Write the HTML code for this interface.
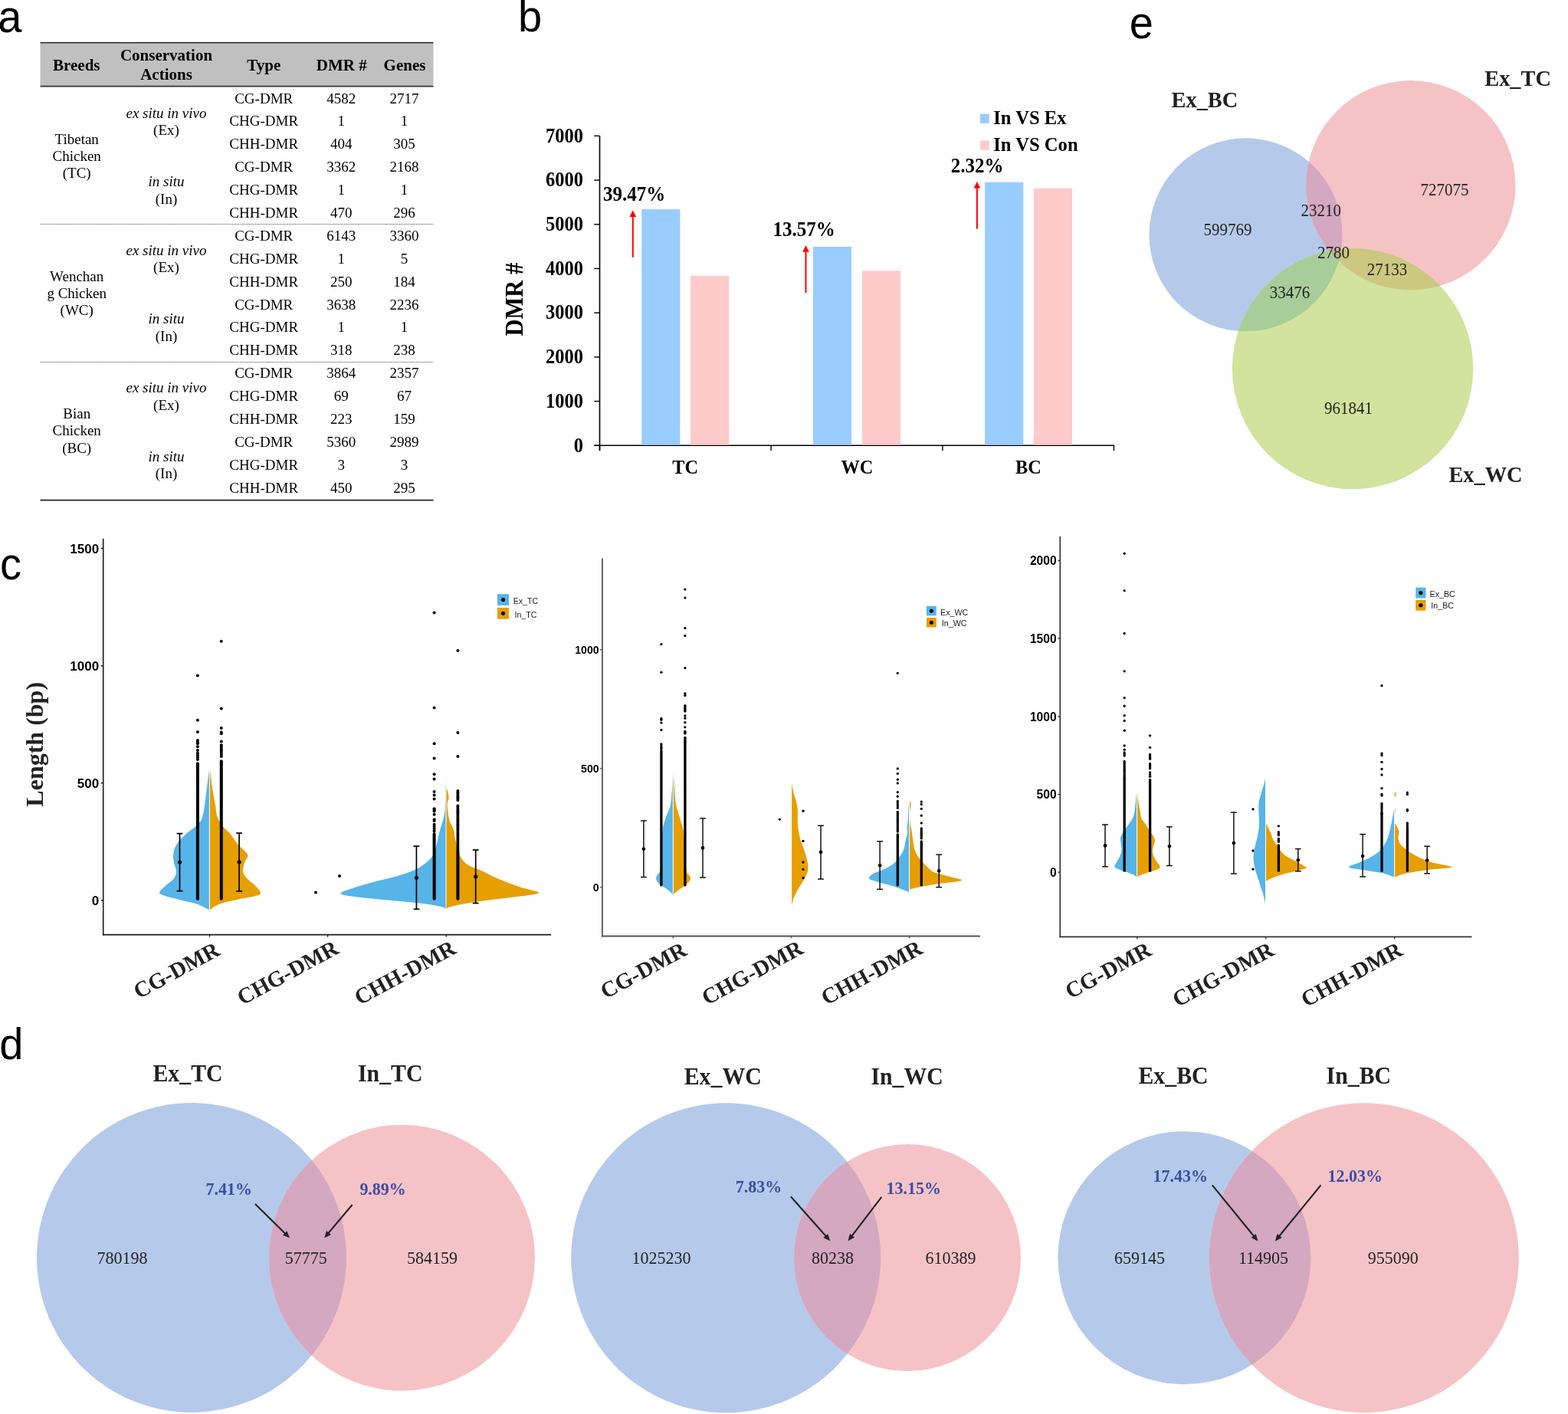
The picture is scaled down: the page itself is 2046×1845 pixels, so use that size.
<!DOCTYPE html><html><head><meta charset='utf-8'><title>Figure</title><style>html,body{margin:0;padding:0;background:#fff;}body{width:2046px;height:1845px;position:relative;overflow:hidden;}</style></head><body><svg width='2046' height='1845' viewBox='0 0 2046 1845' style='position:absolute;left:0;top:0'><defs><clipPath id='cc1'><circle cx='1625.5' cy='306.3' r='126'/></clipPath><clipPath id='cc2'><circle cx='1840.8' cy='241.7' r='136.7'/></clipPath><clipPath id='cc3'><circle cx='1625.5' cy='306.3' r='126'/></clipPath><clipPath id='cc4'><circle cx='250' cy='1641' r='202'/></clipPath><clipPath id='cc5'><circle cx='947.2' cy='1641.3' r='202'/></clipPath><clipPath id='cc6'><circle cx='1545.4' cy='1641.2' r='165'/></clipPath></defs><rect x='0' y='0' width='2046' height='1845' fill='#fff'/><text x='0' y='0' transform='translate(-2.7,41.5) scale(1,1.07)' font-family="'Liberation Sans', Arial, sans-serif" font-size='56' font-weight='normal' font-style='normal' text-anchor='start' fill='#000' >a</text>
<text x='0' y='0' transform='translate(676,41.4) scale(1,1.02)' font-family="'Liberation Sans', Arial, sans-serif" font-size='56' font-weight='normal' font-style='normal' text-anchor='start' fill='#000' >b</text>
<text x='0' y='0' transform='translate(0,756) scale(1,1.07)' font-family="'Liberation Sans', Arial, sans-serif" font-size='56' font-weight='normal' font-style='normal' text-anchor='start' fill='#000' >c</text>
<text x='0' y='0' transform='translate(-0.75,1382.4) scale(1,1.02)' font-family="'Liberation Sans', Arial, sans-serif" font-size='56' font-weight='normal' font-style='normal' text-anchor='start' fill='#000' >d</text>
<text x='0' y='0' transform='translate(1473.7,49.6) scale(1,1.07)' font-family="'Liberation Sans', Arial, sans-serif" font-size='56' font-weight='normal' font-style='normal' text-anchor='start' fill='#000' >e</text>
<rect x='52.5' y='56.5' width='513' height='55.5' fill='#c0c0c0'/>
<line x1='52.5' y1='55.8' x2='565.5' y2='55.8' stroke='#222' stroke-width='1.6' />
<line x1='52.5' y1='112.6' x2='565.5' y2='112.6' stroke='#333' stroke-width='1.8' />
<line x1='52.5' y1='652.6' x2='565.5' y2='652.6' stroke='#222' stroke-width='1.8' />
<line x1='53' y1='292.5' x2='565.5' y2='292.5' stroke='#4a4a4a' stroke-width='1.1' stroke-dasharray='1,1'/>
<line x1='53' y1='472.5' x2='565.5' y2='472.5' stroke='#4a4a4a' stroke-width='1.1' stroke-dasharray='1,1'/>
<text x='99.8' y='92' font-family="'Liberation Serif', 'Times New Roman', serif" font-size='21' font-weight='bold' font-style='normal' text-anchor='middle' fill='#000' >Breeds</text>
<text x='217' y='78.7' font-family="'Liberation Serif', 'Times New Roman', serif" font-size='21' font-weight='bold' font-style='normal' text-anchor='middle' fill='#000' >Conservation</text>
<text x='217' y='104' font-family="'Liberation Serif', 'Times New Roman', serif" font-size='21' font-weight='bold' font-style='normal' text-anchor='middle' fill='#000' >Actions</text>
<text x='344.3' y='92' font-family="'Liberation Serif', 'Times New Roman', serif" font-size='21' font-weight='bold' font-style='normal' text-anchor='middle' fill='#000' >Type</text>
<text x='445.7' y='92' font-family="'Liberation Serif', 'Times New Roman', serif" font-size='21' font-weight='bold' font-style='normal' text-anchor='middle' fill='#000' >DMR #</text>
<text x='528' y='92' font-family="'Liberation Serif', 'Times New Roman', serif" font-size='21' font-weight='bold' font-style='normal' text-anchor='middle' fill='#000' >Genes</text>
<text x='344.2' y='134.6' font-family="'Liberation Serif', 'Times New Roman', serif" font-size='19' font-weight='normal' font-style='normal' text-anchor='middle' fill='#000' >CG-DMR</text>
<text x='445.3' y='134.6' font-family="'Liberation Serif', 'Times New Roman', serif" font-size='19' font-weight='normal' font-style='normal' text-anchor='middle' fill='#000' >4582</text>
<text x='527.6' y='134.6' font-family="'Liberation Serif', 'Times New Roman', serif" font-size='19' font-weight='normal' font-style='normal' text-anchor='middle' fill='#000' >2717</text>
<text x='344.2' y='164.48' font-family="'Liberation Serif', 'Times New Roman', serif" font-size='19' font-weight='normal' font-style='normal' text-anchor='middle' fill='#000' >CHG-DMR</text>
<text x='445.3' y='164.48' font-family="'Liberation Serif', 'Times New Roman', serif" font-size='19' font-weight='normal' font-style='normal' text-anchor='middle' fill='#000' >1</text>
<text x='527.6' y='164.48' font-family="'Liberation Serif', 'Times New Roman', serif" font-size='19' font-weight='normal' font-style='normal' text-anchor='middle' fill='#000' >1</text>
<text x='344.2' y='194.36' font-family="'Liberation Serif', 'Times New Roman', serif" font-size='19' font-weight='normal' font-style='normal' text-anchor='middle' fill='#000' >CHH-DMR</text>
<text x='445.3' y='194.36' font-family="'Liberation Serif', 'Times New Roman', serif" font-size='19' font-weight='normal' font-style='normal' text-anchor='middle' fill='#000' >404</text>
<text x='527.6' y='194.36' font-family="'Liberation Serif', 'Times New Roman', serif" font-size='19' font-weight='normal' font-style='normal' text-anchor='middle' fill='#000' >305</text>
<text x='344.2' y='224.24' font-family="'Liberation Serif', 'Times New Roman', serif" font-size='19' font-weight='normal' font-style='normal' text-anchor='middle' fill='#000' >CG-DMR</text>
<text x='445.3' y='224.24' font-family="'Liberation Serif', 'Times New Roman', serif" font-size='19' font-weight='normal' font-style='normal' text-anchor='middle' fill='#000' >3362</text>
<text x='527.6' y='224.24' font-family="'Liberation Serif', 'Times New Roman', serif" font-size='19' font-weight='normal' font-style='normal' text-anchor='middle' fill='#000' >2168</text>
<text x='344.2' y='254.12' font-family="'Liberation Serif', 'Times New Roman', serif" font-size='19' font-weight='normal' font-style='normal' text-anchor='middle' fill='#000' >CHG-DMR</text>
<text x='445.3' y='254.12' font-family="'Liberation Serif', 'Times New Roman', serif" font-size='19' font-weight='normal' font-style='normal' text-anchor='middle' fill='#000' >1</text>
<text x='527.6' y='254.12' font-family="'Liberation Serif', 'Times New Roman', serif" font-size='19' font-weight='normal' font-style='normal' text-anchor='middle' fill='#000' >1</text>
<text x='344.2' y='284' font-family="'Liberation Serif', 'Times New Roman', serif" font-size='19' font-weight='normal' font-style='normal' text-anchor='middle' fill='#000' >CHH-DMR</text>
<text x='445.3' y='284' font-family="'Liberation Serif', 'Times New Roman', serif" font-size='19' font-weight='normal' font-style='normal' text-anchor='middle' fill='#000' >470</text>
<text x='527.6' y='284' font-family="'Liberation Serif', 'Times New Roman', serif" font-size='19' font-weight='normal' font-style='normal' text-anchor='middle' fill='#000' >296</text>
<text x='344.2' y='313.88' font-family="'Liberation Serif', 'Times New Roman', serif" font-size='19' font-weight='normal' font-style='normal' text-anchor='middle' fill='#000' >CG-DMR</text>
<text x='445.3' y='313.88' font-family="'Liberation Serif', 'Times New Roman', serif" font-size='19' font-weight='normal' font-style='normal' text-anchor='middle' fill='#000' >6143</text>
<text x='527.6' y='313.88' font-family="'Liberation Serif', 'Times New Roman', serif" font-size='19' font-weight='normal' font-style='normal' text-anchor='middle' fill='#000' >3360</text>
<text x='344.2' y='343.76' font-family="'Liberation Serif', 'Times New Roman', serif" font-size='19' font-weight='normal' font-style='normal' text-anchor='middle' fill='#000' >CHG-DMR</text>
<text x='445.3' y='343.76' font-family="'Liberation Serif', 'Times New Roman', serif" font-size='19' font-weight='normal' font-style='normal' text-anchor='middle' fill='#000' >1</text>
<text x='527.6' y='343.76' font-family="'Liberation Serif', 'Times New Roman', serif" font-size='19' font-weight='normal' font-style='normal' text-anchor='middle' fill='#000' >5</text>
<text x='344.2' y='373.64' font-family="'Liberation Serif', 'Times New Roman', serif" font-size='19' font-weight='normal' font-style='normal' text-anchor='middle' fill='#000' >CHH-DMR</text>
<text x='445.3' y='373.64' font-family="'Liberation Serif', 'Times New Roman', serif" font-size='19' font-weight='normal' font-style='normal' text-anchor='middle' fill='#000' >250</text>
<text x='527.6' y='373.64' font-family="'Liberation Serif', 'Times New Roman', serif" font-size='19' font-weight='normal' font-style='normal' text-anchor='middle' fill='#000' >184</text>
<text x='344.2' y='403.52' font-family="'Liberation Serif', 'Times New Roman', serif" font-size='19' font-weight='normal' font-style='normal' text-anchor='middle' fill='#000' >CG-DMR</text>
<text x='445.3' y='403.52' font-family="'Liberation Serif', 'Times New Roman', serif" font-size='19' font-weight='normal' font-style='normal' text-anchor='middle' fill='#000' >3638</text>
<text x='527.6' y='403.52' font-family="'Liberation Serif', 'Times New Roman', serif" font-size='19' font-weight='normal' font-style='normal' text-anchor='middle' fill='#000' >2236</text>
<text x='344.2' y='433.4' font-family="'Liberation Serif', 'Times New Roman', serif" font-size='19' font-weight='normal' font-style='normal' text-anchor='middle' fill='#000' >CHG-DMR</text>
<text x='445.3' y='433.4' font-family="'Liberation Serif', 'Times New Roman', serif" font-size='19' font-weight='normal' font-style='normal' text-anchor='middle' fill='#000' >1</text>
<text x='527.6' y='433.4' font-family="'Liberation Serif', 'Times New Roman', serif" font-size='19' font-weight='normal' font-style='normal' text-anchor='middle' fill='#000' >1</text>
<text x='344.2' y='463.28' font-family="'Liberation Serif', 'Times New Roman', serif" font-size='19' font-weight='normal' font-style='normal' text-anchor='middle' fill='#000' >CHH-DMR</text>
<text x='445.3' y='463.28' font-family="'Liberation Serif', 'Times New Roman', serif" font-size='19' font-weight='normal' font-style='normal' text-anchor='middle' fill='#000' >318</text>
<text x='527.6' y='463.28' font-family="'Liberation Serif', 'Times New Roman', serif" font-size='19' font-weight='normal' font-style='normal' text-anchor='middle' fill='#000' >238</text>
<text x='344.2' y='493.16' font-family="'Liberation Serif', 'Times New Roman', serif" font-size='19' font-weight='normal' font-style='normal' text-anchor='middle' fill='#000' >CG-DMR</text>
<text x='445.3' y='493.16' font-family="'Liberation Serif', 'Times New Roman', serif" font-size='19' font-weight='normal' font-style='normal' text-anchor='middle' fill='#000' >3864</text>
<text x='527.6' y='493.16' font-family="'Liberation Serif', 'Times New Roman', serif" font-size='19' font-weight='normal' font-style='normal' text-anchor='middle' fill='#000' >2357</text>
<text x='344.2' y='523.04' font-family="'Liberation Serif', 'Times New Roman', serif" font-size='19' font-weight='normal' font-style='normal' text-anchor='middle' fill='#000' >CHG-DMR</text>
<text x='445.3' y='523.04' font-family="'Liberation Serif', 'Times New Roman', serif" font-size='19' font-weight='normal' font-style='normal' text-anchor='middle' fill='#000' >69</text>
<text x='527.6' y='523.04' font-family="'Liberation Serif', 'Times New Roman', serif" font-size='19' font-weight='normal' font-style='normal' text-anchor='middle' fill='#000' >67</text>
<text x='344.2' y='552.92' font-family="'Liberation Serif', 'Times New Roman', serif" font-size='19' font-weight='normal' font-style='normal' text-anchor='middle' fill='#000' >CHH-DMR</text>
<text x='445.3' y='552.92' font-family="'Liberation Serif', 'Times New Roman', serif" font-size='19' font-weight='normal' font-style='normal' text-anchor='middle' fill='#000' >223</text>
<text x='527.6' y='552.92' font-family="'Liberation Serif', 'Times New Roman', serif" font-size='19' font-weight='normal' font-style='normal' text-anchor='middle' fill='#000' >159</text>
<text x='344.2' y='582.8' font-family="'Liberation Serif', 'Times New Roman', serif" font-size='19' font-weight='normal' font-style='normal' text-anchor='middle' fill='#000' >CG-DMR</text>
<text x='445.3' y='582.8' font-family="'Liberation Serif', 'Times New Roman', serif" font-size='19' font-weight='normal' font-style='normal' text-anchor='middle' fill='#000' >5360</text>
<text x='527.6' y='582.8' font-family="'Liberation Serif', 'Times New Roman', serif" font-size='19' font-weight='normal' font-style='normal' text-anchor='middle' fill='#000' >2989</text>
<text x='344.2' y='612.68' font-family="'Liberation Serif', 'Times New Roman', serif" font-size='19' font-weight='normal' font-style='normal' text-anchor='middle' fill='#000' >CHG-DMR</text>
<text x='445.3' y='612.68' font-family="'Liberation Serif', 'Times New Roman', serif" font-size='19' font-weight='normal' font-style='normal' text-anchor='middle' fill='#000' >3</text>
<text x='527.6' y='612.68' font-family="'Liberation Serif', 'Times New Roman', serif" font-size='19' font-weight='normal' font-style='normal' text-anchor='middle' fill='#000' >3</text>
<text x='344.2' y='642.56' font-family="'Liberation Serif', 'Times New Roman', serif" font-size='19' font-weight='normal' font-style='normal' text-anchor='middle' fill='#000' >CHH-DMR</text>
<text x='445.3' y='642.56' font-family="'Liberation Serif', 'Times New Roman', serif" font-size='19' font-weight='normal' font-style='normal' text-anchor='middle' fill='#000' >450</text>
<text x='527.6' y='642.56' font-family="'Liberation Serif', 'Times New Roman', serif" font-size='19' font-weight='normal' font-style='normal' text-anchor='middle' fill='#000' >295</text>
<text x='100.2' y='187.5' font-family="'Liberation Serif', 'Times New Roman', serif" font-size='19' font-weight='normal' font-style='normal' text-anchor='middle' fill='#000' >Tibetan</text>
<text x='100.2' y='209.85' font-family="'Liberation Serif', 'Times New Roman', serif" font-size='19' font-weight='normal' font-style='normal' text-anchor='middle' fill='#000' >Chicken</text>
<text x='100.2' y='232.2' font-family="'Liberation Serif', 'Times New Roman', serif" font-size='19' font-weight='normal' font-style='normal' text-anchor='middle' fill='#000' >(TC)</text>
<text x='217' y='153.6' font-family="'Liberation Serif', 'Times New Roman', serif" font-size='19' font-weight='normal' font-style='italic' text-anchor='middle' fill='#000' >ex situ in vivo</text>
<text x='217' y='176' font-family="'Liberation Serif', 'Times New Roman', serif" font-size='19' font-weight='normal' font-style='normal' text-anchor='middle' fill='#000' >(Ex)</text>
<text x='217' y='243.2' font-family="'Liberation Serif', 'Times New Roman', serif" font-size='19' font-weight='normal' font-style='italic' text-anchor='middle' fill='#000' >in situ</text>
<text x='217' y='265.5' font-family="'Liberation Serif', 'Times New Roman', serif" font-size='19' font-weight='normal' font-style='normal' text-anchor='middle' fill='#000' >(In)</text>
<text x='100.2' y='366.78' font-family="'Liberation Serif', 'Times New Roman', serif" font-size='19' font-weight='normal' font-style='normal' text-anchor='middle' fill='#000' >Wenchan</text>
<text x='100.2' y='389.13' font-family="'Liberation Serif', 'Times New Roman', serif" font-size='19' font-weight='normal' font-style='normal' text-anchor='middle' fill='#000' >g Chicken</text>
<text x='100.2' y='411.48' font-family="'Liberation Serif', 'Times New Roman', serif" font-size='19' font-weight='normal' font-style='normal' text-anchor='middle' fill='#000' >(WC)</text>
<text x='217' y='332.88' font-family="'Liberation Serif', 'Times New Roman', serif" font-size='19' font-weight='normal' font-style='italic' text-anchor='middle' fill='#000' >ex situ in vivo</text>
<text x='217' y='355.28' font-family="'Liberation Serif', 'Times New Roman', serif" font-size='19' font-weight='normal' font-style='normal' text-anchor='middle' fill='#000' >(Ex)</text>
<text x='217' y='422.48' font-family="'Liberation Serif', 'Times New Roman', serif" font-size='19' font-weight='normal' font-style='italic' text-anchor='middle' fill='#000' >in situ</text>
<text x='217' y='444.78' font-family="'Liberation Serif', 'Times New Roman', serif" font-size='19' font-weight='normal' font-style='normal' text-anchor='middle' fill='#000' >(In)</text>
<text x='100.2' y='546.06' font-family="'Liberation Serif', 'Times New Roman', serif" font-size='19' font-weight='normal' font-style='normal' text-anchor='middle' fill='#000' >Bian</text>
<text x='100.2' y='568.41' font-family="'Liberation Serif', 'Times New Roman', serif" font-size='19' font-weight='normal' font-style='normal' text-anchor='middle' fill='#000' >Chicken</text>
<text x='100.2' y='590.76' font-family="'Liberation Serif', 'Times New Roman', serif" font-size='19' font-weight='normal' font-style='normal' text-anchor='middle' fill='#000' >(BC)</text>
<text x='217' y='512.16' font-family="'Liberation Serif', 'Times New Roman', serif" font-size='19' font-weight='normal' font-style='italic' text-anchor='middle' fill='#000' >ex situ in vivo</text>
<text x='217' y='534.56' font-family="'Liberation Serif', 'Times New Roman', serif" font-size='19' font-weight='normal' font-style='normal' text-anchor='middle' fill='#000' >(Ex)</text>
<text x='217' y='601.76' font-family="'Liberation Serif', 'Times New Roman', serif" font-size='19' font-weight='normal' font-style='italic' text-anchor='middle' fill='#000' >in situ</text>
<text x='217' y='624.06' font-family="'Liberation Serif', 'Times New Roman', serif" font-size='19' font-weight='normal' font-style='normal' text-anchor='middle' fill='#000' >(In)</text>
<line x1='782.5' y1='177.3' x2='782.5' y2='588' stroke='#000' stroke-width='1.6' />
<line x1='775.2' y1='581.3' x2='1454.2' y2='581.3' stroke='#000' stroke-width='1.6' />
<line x1='775.2' y1='581.3' x2='782.5' y2='581.3' stroke='#000' stroke-width='1.4' />
<text x='0' y='0' transform='translate(761,589.6) scale(1,1.11)' font-family="'Liberation Serif', 'Times New Roman', serif" font-size='24.5' font-weight='bold' font-style='normal' text-anchor='end' fill='#000' >0</text>
<line x1='775.2' y1='523.59' x2='782.5' y2='523.59' stroke='#000' stroke-width='1.4' />
<text x='0' y='0' transform='translate(761,531.89) scale(1,1.11)' font-family="'Liberation Serif', 'Times New Roman', serif" font-size='24.5' font-weight='bold' font-style='normal' text-anchor='end' fill='#000' >1000</text>
<line x1='775.2' y1='465.88' x2='782.5' y2='465.88' stroke='#000' stroke-width='1.4' />
<text x='0' y='0' transform='translate(761,474.18) scale(1,1.11)' font-family="'Liberation Serif', 'Times New Roman', serif" font-size='24.5' font-weight='bold' font-style='normal' text-anchor='end' fill='#000' >2000</text>
<line x1='775.2' y1='408.17' x2='782.5' y2='408.17' stroke='#000' stroke-width='1.4' />
<text x='0' y='0' transform='translate(761,416.47) scale(1,1.11)' font-family="'Liberation Serif', 'Times New Roman', serif" font-size='24.5' font-weight='bold' font-style='normal' text-anchor='end' fill='#000' >3000</text>
<line x1='775.2' y1='350.46' x2='782.5' y2='350.46' stroke='#000' stroke-width='1.4' />
<text x='0' y='0' transform='translate(761,358.76) scale(1,1.11)' font-family="'Liberation Serif', 'Times New Roman', serif" font-size='24.5' font-weight='bold' font-style='normal' text-anchor='end' fill='#000' >4000</text>
<line x1='775.2' y1='292.75' x2='782.5' y2='292.75' stroke='#000' stroke-width='1.4' />
<text x='0' y='0' transform='translate(761,301.05) scale(1,1.11)' font-family="'Liberation Serif', 'Times New Roman', serif" font-size='24.5' font-weight='bold' font-style='normal' text-anchor='end' fill='#000' >5000</text>
<line x1='775.2' y1='235.04' x2='782.5' y2='235.04' stroke='#000' stroke-width='1.4' />
<text x='0' y='0' transform='translate(761,243.34) scale(1,1.11)' font-family="'Liberation Serif', 'Times New Roman', serif" font-size='24.5' font-weight='bold' font-style='normal' text-anchor='end' fill='#000' >6000</text>
<line x1='775.2' y1='177.33' x2='782.5' y2='177.33' stroke='#000' stroke-width='1.4' />
<text x='0' y='0' transform='translate(761,185.63) scale(1,1.11)' font-family="'Liberation Serif', 'Times New Roman', serif" font-size='24.5' font-weight='bold' font-style='normal' text-anchor='end' fill='#000' >7000</text>
<line x1='782.5' y1='581.3' x2='782.5' y2='588' stroke='#000' stroke-width='1.4' />
<line x1='1006.1' y1='581.3' x2='1006.1' y2='588' stroke='#000' stroke-width='1.4' />
<line x1='1229.9' y1='581.3' x2='1229.9' y2='588' stroke='#000' stroke-width='1.4' />
<line x1='1453.4' y1='581.3' x2='1453.4' y2='588' stroke='#000' stroke-width='1.4' />
<rect x='837.2' y='273.1' width='50.2' height='307.4' fill='#99ccff'/>
<rect x='901' y='359.8' width='50.2' height='220.7' fill='#ffcaca'/>
<rect x='1060.9' y='322' width='50.2' height='258.5' fill='#99ccff'/>
<rect x='1124.9' y='353.4' width='50.2' height='227.1' fill='#ffcaca'/>
<rect x='1285.1' y='237.7' width='50.2' height='342.8' fill='#99ccff'/>
<rect x='1348.8' y='245.7' width='50.2' height='334.8' fill='#ffcaca'/>
<text x='0' y='0' transform='translate(894.2,617.6) scale(1,1.06)' font-family="'Liberation Serif', 'Times New Roman', serif" font-size='24.3' font-weight='bold' font-style='normal' text-anchor='middle' fill='#000' >TC</text>
<text x='0' y='0' transform='translate(1118.3,617.6) scale(1,1.06)' font-family="'Liberation Serif', 'Times New Roman', serif" font-size='24.3' font-weight='bold' font-style='normal' text-anchor='middle' fill='#000' >WC</text>
<text x='0' y='0' transform='translate(1341.9,617.6) scale(1,1.06)' font-family="'Liberation Serif', 'Times New Roman', serif" font-size='24.3' font-weight='bold' font-style='normal' text-anchor='middle' fill='#000' >BC</text>
<text x='0' y='0' font-family="'Liberation Serif', 'Times New Roman', serif" font-size='30.6' font-weight='bold' font-style='normal' text-anchor='middle' fill='#000' transform='translate(682.3,390.6) rotate(-90) scale(1,1.07)'>DMR #</text>
<line x1='825.8' y1='335.8' x2='825.8' y2='281.5' stroke='#ff0000' stroke-width='2' />
<polygon points='821.4,283 825.8,274.5 830.2,283' fill='#ff0000'/>
<line x1='1051.5' y1='382.2' x2='1051.5' y2='327.3' stroke='#ff0000' stroke-width='2' />
<polygon points='1047.1,328.8 1051.5,320.3 1055.9,328.8' fill='#ff0000'/>
<line x1='1274.9' y1='298.6' x2='1274.9' y2='244.1' stroke='#ff0000' stroke-width='2' />
<polygon points='1270.5,245.6 1274.9,237.1 1279.3,245.6' fill='#ff0000'/>
<text x='0' y='0' transform='translate(787,262.3) scale(1,1.07)' font-family="'Liberation Serif', 'Times New Roman', serif" font-size='25' font-weight='bold' font-style='normal' text-anchor='start' fill='#000' >39.47%</text>
<text x='0' y='0' transform='translate(1008.6,307.5) scale(1,1.07)' font-family="'Liberation Serif', 'Times New Roman', serif" font-size='25' font-weight='bold' font-style='normal' text-anchor='start' fill='#000' >13.57%</text>
<text x='0' y='0' transform='translate(1240.8,225.2) scale(1,1.07)' font-family="'Liberation Serif', 'Times New Roman', serif" font-size='25' font-weight='bold' font-style='normal' text-anchor='start' fill='#000' >2.32%</text>
<rect x='1279' y='148.6' width='11.8' height='12.3' fill='#99ccff'/>
<rect x='1279' y='183.4' width='11.8' height='12.3' fill='#ffcaca'/>
<text x='0' y='0' transform='translate(1296.3,162.2) scale(1,1.05)' font-family="'Liberation Serif', 'Times New Roman', serif" font-size='24.6' font-weight='bold' font-style='normal' text-anchor='start' fill='#000' >In VS Ex</text>
<text x='0' y='0' transform='translate(1296.3,196.8) scale(1,1.05)' font-family="'Liberation Serif', 'Times New Roman', serif" font-size='24.6' font-weight='bold' font-style='normal' text-anchor='start' fill='#000' >In VS Con</text>
<circle cx='1625.5' cy='306.3' r='126' fill='#b5caea' />
<circle cx='1840.8' cy='241.7' r='136.7' fill='#f5c3c6' />
<circle cx='1765.1' cy='481.1' r='157.2' fill='#d1e39c' />
<g clip-path='url(#cc1)'>
<circle cx='1840.8' cy='241.7' r='136.7' fill='#d4a8c0' />
<circle cx='1765.1' cy='481.1' r='157.2' fill='#a9cd98' />
<g clip-path='url(#cc2)'>
<circle cx='1765.1' cy='481.1' r='157.2' fill='#b9b48a' />
</g></g>
<g clip-path='url(#cc2)'>
<circle cx='1765.1' cy='481.1' r='157.2' fill='#cdc87f' />
<g clip-path='url(#cc3)'>
<circle cx='1765.1' cy='481.1' r='157.2' fill='#b9b48a' />
</g></g>
<text x='0' y='0' transform='translate(1528.5,139.6) scale(1,1.05)' font-family="'Liberation Serif', 'Times New Roman', serif" font-size='28.4' font-weight='bold' font-style='normal' text-anchor='start' fill='#222' >Ex_BC</text>
<text x='0' y='0' transform='translate(1937.2,111.7) scale(1,1.05)' font-family="'Liberation Serif', 'Times New Roman', serif" font-size='28.4' font-weight='bold' font-style='normal' text-anchor='start' fill='#222' >Ex_TC</text>
<text x='0' y='0' transform='translate(1890.4,629.2) scale(1,1.05)' font-family="'Liberation Serif', 'Times New Roman', serif" font-size='28.4' font-weight='bold' font-style='normal' text-anchor='start' fill='#222' >Ex_WC</text>
<text x='0' y='0' transform='translate(1601.95,307) scale(1,1.08)' font-family="'Liberation Serif', 'Times New Roman', serif" font-size='21' font-weight='normal' font-style='normal' text-anchor='middle' fill='#222' >599769</text>
<text x='0' y='0' transform='translate(1885,254.5) scale(1,1.08)' font-family="'Liberation Serif', 'Times New Roman', serif" font-size='21' font-weight='normal' font-style='normal' text-anchor='middle' fill='#222' >727075</text>
<text x='0' y='0' transform='translate(1723.75,282.4) scale(1,1.08)' font-family="'Liberation Serif', 'Times New Roman', serif" font-size='21' font-weight='normal' font-style='normal' text-anchor='middle' fill='#222' >23210</text>
<text x='0' y='0' transform='translate(1740.1,336.8) scale(1,1.08)' font-family="'Liberation Serif', 'Times New Roman', serif" font-size='21' font-weight='normal' font-style='normal' text-anchor='middle' fill='#222' >2780</text>
<text x='0' y='0' transform='translate(1809.9,358.9) scale(1,1.08)' font-family="'Liberation Serif', 'Times New Roman', serif" font-size='21' font-weight='normal' font-style='normal' text-anchor='middle' fill='#222' >27133</text>
<text x='0' y='0' transform='translate(1683,389.4) scale(1,1.08)' font-family="'Liberation Serif', 'Times New Roman', serif" font-size='21' font-weight='normal' font-style='normal' text-anchor='middle' fill='#222' >33476</text>
<text x='0' y='0' transform='translate(1759.5,539.9) scale(1,1.08)' font-family="'Liberation Serif', 'Times New Roman', serif" font-size='21' font-weight='normal' font-style='normal' text-anchor='middle' fill='#222' >961841</text>
<circle cx='250' cy='1641' r='202' fill='#b5caea' />
<circle cx='524.5' cy='1641.2' r='173.5' fill='#f5c3c6' />
<g clip-path='url(#cc4)'>
<circle cx='524.5' cy='1641.2' r='173.5' fill='#d4a8c0' />
</g>
<text x='0' y='0' transform='translate(245,1410.6) scale(1,1.05)' font-family="'Liberation Serif', 'Times New Roman', serif" font-size='29.8' font-weight='bold' font-style='normal' text-anchor='middle' fill='#222' >Ex_TC</text>
<text x='0' y='0' transform='translate(509.2,1410.6) scale(1,1.05)' font-family="'Liberation Serif', 'Times New Roman', serif" font-size='29.8' font-weight='bold' font-style='normal' text-anchor='middle' fill='#222' >In_TC</text>
<text x='0' y='0' transform='translate(298.8,1559.1) scale(1,1.07)' font-family="'Liberation Serif', 'Times New Roman', serif" font-size='22' font-weight='bold' font-style='normal' text-anchor='middle' fill='#3b4ca3' >7.41%</text>
<text x='0' y='0' transform='translate(499.6,1559.1) scale(1,1.07)' font-family="'Liberation Serif', 'Times New Roman', serif" font-size='22' font-weight='bold' font-style='normal' text-anchor='middle' fill='#3b4ca3' >9.89%</text>
<text x='0' y='0' transform='translate(159.5,1648.9) scale(1,1.09)' font-family="'Liberation Serif', 'Times New Roman', serif" font-size='22' font-weight='normal' font-style='normal' text-anchor='middle' fill='#222' >780198</text>
<text x='0' y='0' transform='translate(399.2,1648.9) scale(1,1.09)' font-family="'Liberation Serif', 'Times New Roman', serif" font-size='22' font-weight='normal' font-style='normal' text-anchor='middle' fill='#222' >57775</text>
<text x='0' y='0' transform='translate(564,1648.9) scale(1,1.09)' font-family="'Liberation Serif', 'Times New Roman', serif" font-size='22' font-weight='normal' font-style='normal' text-anchor='middle' fill='#222' >584159</text>
<line x1='333' y1='1570.9' x2='373.11' y2='1610.39' stroke='#222' stroke-width='2.1' />
<polygon points='378.1,1615.3 368.95,1611.77 374.42,1606.21' fill='#222'/>
<line x1='459.6' y1='1572' x2='427.7' y2='1609.94' stroke='#222' stroke-width='2.1' />
<polygon points='423.2,1615.3 426.01,1605.9 431.98,1610.92' fill='#222'/>
<circle cx='947.2' cy='1641.3' r='202' fill='#b5caea' />
<circle cx='1184' cy='1641' r='148' fill='#f5c3c6' />
<g clip-path='url(#cc5)'>
<circle cx='1184' cy='1641' r='148' fill='#d4a8c0' />
</g>
<text x='0' y='0' transform='translate(943.2,1414.7) scale(1,1.05)' font-family="'Liberation Serif', 'Times New Roman', serif" font-size='29.8' font-weight='bold' font-style='normal' text-anchor='middle' fill='#222' >Ex_WC</text>
<text x='0' y='0' transform='translate(1183.6,1414.7) scale(1,1.05)' font-family="'Liberation Serif', 'Times New Roman', serif" font-size='29.8' font-weight='bold' font-style='normal' text-anchor='middle' fill='#222' >In_WC</text>
<text x='0' y='0' transform='translate(990,1556.4) scale(1,1.07)' font-family="'Liberation Serif', 'Times New Roman', serif" font-size='22' font-weight='bold' font-style='normal' text-anchor='middle' fill='#3b4ca3' >7.83%</text>
<text x='0' y='0' transform='translate(1192.2,1558) scale(1,1.07)' font-family="'Liberation Serif', 'Times New Roman', serif" font-size='22' font-weight='bold' font-style='normal' text-anchor='middle' fill='#3b4ca3' >13.15%</text>
<text x='0' y='0' transform='translate(863.1,1648.8) scale(1,1.09)' font-family="'Liberation Serif', 'Times New Roman', serif" font-size='22' font-weight='normal' font-style='normal' text-anchor='middle' fill='#222' >1025230</text>
<text x='0' y='0' transform='translate(1086.5,1648.8) scale(1,1.09)' font-family="'Liberation Serif', 'Times New Roman', serif" font-size='22' font-weight='normal' font-style='normal' text-anchor='middle' fill='#222' >80238</text>
<text x='0' y='0' transform='translate(1240.6,1648.8) scale(1,1.09)' font-family="'Liberation Serif', 'Times New Roman', serif" font-size='22' font-weight='normal' font-style='normal' text-anchor='middle' fill='#222' >610389</text>
<line x1='1031.8' y1='1561.2' x2='1078.65' y2='1613.97' stroke='#222' stroke-width='2.1' />
<polygon points='1083.3,1619.2 1074.41,1615.06 1080.24,1609.88' fill='#222'/>
<line x1='1150.3' y1='1561.9' x2='1110.75' y2='1613.64' stroke='#222' stroke-width='2.1' />
<polygon points='1106.5,1619.2 1108.87,1609.68 1115.06,1614.42' fill='#222'/>
<circle cx='1545.4' cy='1641.2' r='165' fill='#b5caea' />
<circle cx='1779.8' cy='1641.2' r='202' fill='#f5c3c6' />
<g clip-path='url(#cc6)'>
<circle cx='1779.8' cy='1641.2' r='202' fill='#d4a8c0' />
</g>
<text x='0' y='0' transform='translate(1531,1414.2) scale(1,1.05)' font-family="'Liberation Serif', 'Times New Roman', serif" font-size='29.8' font-weight='bold' font-style='normal' text-anchor='middle' fill='#222' >Ex_BC</text>
<text x='0' y='0' transform='translate(1772.8,1414.2) scale(1,1.05)' font-family="'Liberation Serif', 'Times New Roman', serif" font-size='29.8' font-weight='bold' font-style='normal' text-anchor='middle' fill='#222' >In_BC</text>
<text x='0' y='0' transform='translate(1540.2,1541.8) scale(1,1.07)' font-family="'Liberation Serif', 'Times New Roman', serif" font-size='22' font-weight='bold' font-style='normal' text-anchor='middle' fill='#3b4ca3' >17.43%</text>
<text x='0' y='0' transform='translate(1768.2,1541.8) scale(1,1.07)' font-family="'Liberation Serif', 'Times New Roman', serif" font-size='22' font-weight='bold' font-style='normal' text-anchor='middle' fill='#3b4ca3' >12.03%</text>
<text x='0' y='0' transform='translate(1487.1,1648.7) scale(1,1.09)' font-family="'Liberation Serif', 'Times New Roman', serif" font-size='22' font-weight='normal' font-style='normal' text-anchor='middle' fill='#222' >659145</text>
<text x='0' y='0' transform='translate(1648.5,1648.7) scale(1,1.09)' font-family="'Liberation Serif', 'Times New Roman', serif" font-size='22' font-weight='normal' font-style='normal' text-anchor='middle' fill='#222' >114905</text>
<text x='0' y='0' transform='translate(1817.7,1648.7) scale(1,1.09)' font-family="'Liberation Serif', 'Times New Roman', serif" font-size='22' font-weight='normal' font-style='normal' text-anchor='middle' fill='#222' >955090</text>
<line x1='1581.8' y1='1546.3' x2='1636.98' y2='1613.97' stroke='#222' stroke-width='2.1' />
<polygon points='1641.4,1619.4 1632.69,1614.89 1638.74,1609.96' fill='#222'/>
<line x1='1723.5' y1='1546.3' x2='1668.32' y2='1613.97' stroke='#222' stroke-width='2.1' />
<polygon points='1663.9,1619.4 1666.56,1609.96 1672.61,1614.89' fill='#222'/>
<line x1='134.7' y1='702.7' x2='134.7' y2='1220.4' stroke='#1a1a1a' stroke-width='1.6' />
<line x1='134' y1='1219.6' x2='719.2' y2='1219.6' stroke='#1a1a1a' stroke-width='1.6' />
<line x1='131.6' y1='1174.8' x2='134.7' y2='1174.8' stroke='#1a1a1a' stroke-width='1.4' />
<text x='129.2' y='1180.9' font-family="'Liberation Sans', Arial, sans-serif" font-size='17' font-weight='bold' font-style='normal' text-anchor='end' fill='#000' >0</text>
<line x1='131.6' y1='1021.8' x2='134.7' y2='1021.8' stroke='#1a1a1a' stroke-width='1.4' />
<text x='129.2' y='1027.9' font-family="'Liberation Sans', Arial, sans-serif" font-size='17' font-weight='bold' font-style='normal' text-anchor='end' fill='#000' >500</text>
<line x1='131.6' y1='868.9' x2='134.7' y2='868.9' stroke='#1a1a1a' stroke-width='1.4' />
<text x='129.2' y='875' font-family="'Liberation Sans', Arial, sans-serif" font-size='17' font-weight='bold' font-style='normal' text-anchor='end' fill='#000' >1000</text>
<line x1='131.6' y1='715.4' x2='134.7' y2='715.4' stroke='#1a1a1a' stroke-width='1.4' />
<text x='129.2' y='721.5' font-family="'Liberation Sans', Arial, sans-serif" font-size='17' font-weight='bold' font-style='normal' text-anchor='end' fill='#000' >1500</text>
<line x1='273.5' y1='1219.6' x2='273.5' y2='1222.6' stroke='#1a1a1a' stroke-width='1.4' />
<line x1='427.6' y1='1219.6' x2='427.6' y2='1222.6' stroke='#1a1a1a' stroke-width='1.4' />
<line x1='582.2' y1='1219.6' x2='582.2' y2='1222.6' stroke='#1a1a1a' stroke-width='1.4' />
<text x='0' y='0' font-family="'Liberation Serif', 'Times New Roman', serif" font-size='32' font-weight='bold' font-style='normal' text-anchor='middle' fill='#222' transform='translate(55.7,971.3) rotate(-90)'>Length (bp)</text>
<path d='M273.4,1001.2 L273,1004.19 L272.44,1008.36 L271.79,1013.29 L271.09,1018.55 L270.41,1023.73 L269.8,1028.4 L269.26,1032.75 L268.73,1037.14 L268.23,1041.45 L267.73,1045.55 L267.26,1049.31 L266.8,1052.6 L266.37,1055.36 L265.98,1057.68 L265.61,1059.66 L265.23,1061.4 L264.83,1063.01 L264.4,1064.6 L263.97,1066.09 L263.57,1067.38 L263.15,1068.54 L262.66,1069.64 L262.06,1070.74 L261.3,1071.9 L260.39,1073.09 L259.39,1074.25 L258.26,1075.41 L257.01,1076.6 L255.63,1077.85 L254.1,1079.2 L252.35,1080.64 L250.39,1082.14 L248.28,1083.7 L246.13,1085.33 L244,1087.03 L242,1088.8 L240.04,1090.67 L238.05,1092.65 L236.09,1094.69 L234.24,1096.77 L232.55,1098.85 L231.1,1100.9 L229.88,1102.92 L228.85,1104.93 L227.98,1106.95 L227.27,1108.97 L226.72,1110.98 L226.3,1113 L226.06,1115.02 L226.01,1117.03 L226.11,1119.05 L226.32,1121.07 L226.6,1123.08 L226.9,1125.1 L227.34,1127.14 L227.97,1129.22 L228.66,1131.3 L229.3,1133.34 L229.75,1135.32 L229.9,1137.2 L229.75,1138.97 L229.41,1140.66 L228.89,1142.28 L228.2,1143.85 L227.33,1145.39 L226.3,1146.9 L225.02,1148.37 L223.47,1149.77 L221.76,1151.14 L219.97,1152.5 L218.22,1153.87 L216.6,1155.3 L214.94,1156.83 L213.14,1158.46 L211.36,1160.11 L209.81,1161.7 L208.66,1163.16 L208.1,1164.4 L208.13,1165.38 L208.61,1166.14 L209.49,1166.76 L210.74,1167.33 L212.32,1167.92 L214.2,1168.6 L216.45,1169.36 L219.12,1170.14 L222.12,1170.94 L225.37,1171.76 L228.79,1172.61 L232.3,1173.5 L236.11,1174.44 L240.32,1175.41 L244.7,1176.42 L249.01,1177.45 L253.03,1178.48 L256.5,1179.5 L259.46,1180.56 L262.1,1181.69 L264.44,1182.81 L266.49,1183.88 L268.27,1184.83 L269.8,1185.6 L271,1186.17 L271.85,1186.59 L272.43,1186.88 L272.83,1187.09 L273.12,1187.25 L273.4,1187.4 Z' fill='#56b4e9'/>
<path d='M273.4,1000.6 L273.8,1003.67 L274.34,1007.94 L274.99,1012.99 L275.69,1018.37 L276.41,1023.65 L277.1,1028.4 L277.8,1032.78 L278.55,1037.19 L279.32,1041.49 L280.06,1045.57 L280.73,1049.31 L281.3,1052.6 L281.72,1055.36 L282.01,1057.68 L282.24,1059.66 L282.46,1061.4 L282.72,1063.01 L283.1,1064.6 L283.58,1066.09 L284.12,1067.38 L284.71,1068.54 L285.34,1069.64 L286,1070.74 L286.7,1071.9 L287.39,1073.09 L288.06,1074.25 L288.77,1075.41 L289.57,1076.6 L290.5,1077.85 L291.6,1079.2 L292.94,1080.64 L294.49,1082.14 L296.18,1083.7 L297.91,1085.33 L299.61,1087.03 L301.2,1088.8 L302.64,1090.67 L303.98,1092.65 L305.29,1094.69 L306.64,1096.77 L308.09,1098.85 L309.7,1100.9 L311.63,1103 L313.87,1105.2 L316.21,1107.39 L318.44,1109.49 L320.37,1111.39 L321.8,1113 L322.69,1114.22 L323.19,1115.11 L323.38,1115.81 L323.36,1116.44 L323.2,1117.13 L323,1118 L322.66,1119 L322.11,1120.03 L321.42,1121.11 L320.69,1122.29 L319.99,1123.6 L319.4,1125.1 L318.83,1126.86 L318.2,1128.85 L317.6,1130.99 L317.13,1133.16 L316.9,1135.26 L317,1137.2 L317.47,1138.97 L318.24,1140.66 L319.24,1142.28 L320.41,1143.85 L321.69,1145.39 L323,1146.9 L324.43,1148.37 L326.05,1149.77 L327.78,1151.14 L329.51,1152.5 L331.19,1153.87 L332.7,1155.3 L334.18,1156.83 L335.73,1158.46 L337.21,1160.11 L338.48,1161.7 L339.42,1163.16 L339.9,1164.4 L340.02,1165.38 L339.91,1166.14 L339.46,1166.76 L338.58,1167.33 L337.16,1167.92 L335.1,1168.6 L332.19,1169.36 L328.47,1170.14 L324.21,1170.94 L319.69,1171.76 L315.16,1172.61 L310.9,1173.5 L306.74,1174.41 L302.43,1175.35 L298.12,1176.31 L293.96,1177.32 L290.1,1178.38 L286.7,1179.5 L283.7,1180.8 L280.97,1182.29 L278.54,1183.83 L276.44,1185.28 L274.72,1186.52 L273.4,1187.4 Z' fill='#e69f00'/>
<path d='M582,1012 L581.96,1014.03 L581.91,1016.8 L581.85,1020.1 L581.78,1023.71 L581.69,1027.42 L581.6,1031 L581.49,1034.69 L581.37,1038.7 L581.24,1042.81 L581.1,1046.78 L580.96,1050.39 L580.8,1053.4 L580.65,1055.71 L580.5,1057.47 L580.34,1058.87 L580.16,1060.09 L579.95,1061.3 L579.7,1062.7 L579.41,1064.25 L579.08,1065.8 L578.72,1067.34 L578.33,1068.89 L577.93,1070.44 L577.5,1072 L577.04,1073.56 L576.53,1075.13 L576.01,1076.7 L575.48,1078.27 L574.97,1079.84 L574.5,1081.4 L574.07,1082.95 L573.67,1084.5 L573.29,1086.05 L572.93,1087.6 L572.56,1089.15 L572.2,1090.7 L571.84,1092.26 L571.5,1093.83 L571.16,1095.4 L570.81,1096.97 L570.47,1098.54 L570.1,1100.1 L569.74,1101.65 L569.4,1103.2 L569.06,1104.75 L568.67,1106.3 L568.23,1107.85 L567.7,1109.4 L567.13,1110.96 L566.54,1112.53 L565.89,1114.1 L565.14,1115.67 L564.22,1117.24 L563.1,1118.8 L561.75,1120.37 L560.22,1121.96 L558.53,1123.54 L556.71,1125.1 L554.79,1126.63 L552.8,1128.1 L550.79,1129.52 L548.74,1130.89 L546.6,1132.22 L544.29,1133.53 L541.74,1134.82 L538.9,1136.1 L535.76,1137.37 L532.36,1138.61 L528.74,1139.83 L524.89,1141.05 L520.84,1142.27 L516.6,1143.5 L512.03,1144.75 L507.09,1146 L501.94,1147.25 L496.75,1148.5 L491.68,1149.75 L486.9,1151 L482.33,1152.24 L477.84,1153.47 L473.46,1154.71 L469.26,1155.94 L465.29,1157.17 L461.6,1158.4 L457.84,1159.67 L453.91,1160.97 L450.21,1162.28 L447.14,1163.55 L445.1,1164.73 L444.5,1165.8 L445.41,1166.72 L447.54,1167.52 L450.69,1168.24 L454.71,1168.91 L459.4,1169.59 L464.6,1170.3 L470.62,1171.04 L477.65,1171.77 L485.37,1172.5 L493.43,1173.23 L501.48,1173.96 L509.2,1174.7 L516.87,1175.44 L524.84,1176.19 L532.8,1176.94 L540.47,1177.7 L547.57,1178.45 L553.8,1179.2 L559.19,1179.97 L563.99,1180.76 L568.21,1181.55 L571.87,1182.32 L575,1183.04 L577.6,1183.7 L579.51,1184.31 L580.67,1184.89 L581.29,1185.43 L581.58,1185.91 L581.75,1186.3 L582,1186.6 Z' fill='#56b4e9'/>
<path d='M582,1026.8 L582.32,1027.66 L582.77,1028.86 L583.3,1030.28 L583.84,1031.8 L584.33,1033.32 L584.7,1034.7 L584.97,1035.98 L585.21,1037.27 L585.39,1038.54 L585.5,1039.79 L585.54,1041.01 L585.5,1042.2 L585.3,1043.25 L584.94,1044.16 L584.51,1045.04 L584.09,1046.01 L583.76,1047.19 L583.6,1048.7 L583.64,1050.65 L583.8,1052.99 L584.06,1055.53 L584.37,1058.1 L584.7,1060.55 L585,1062.7 L585.28,1064.58 L585.58,1066.32 L585.89,1067.93 L586.22,1069.41 L586.55,1070.77 L586.9,1072 L587.25,1073.02 L587.6,1073.8 L587.96,1074.46 L588.34,1075.1 L588.75,1075.81 L589.2,1076.7 L589.72,1077.8 L590.33,1079.03 L590.96,1080.34 L591.56,1081.67 L592.09,1082.98 L592.5,1084.2 L592.74,1085.31 L592.84,1086.33 L592.87,1087.33 L592.88,1088.36 L592.94,1089.46 L593.1,1090.7 L593.37,1092.1 L593.69,1093.62 L594.06,1095.22 L594.46,1096.87 L594.88,1098.51 L595.3,1100.1 L595.73,1101.65 L596.17,1103.2 L596.63,1104.75 L597.11,1106.3 L597.6,1107.85 L598.1,1109.4 L598.56,1110.96 L598.97,1112.53 L599.4,1114.1 L599.9,1115.67 L600.55,1117.24 L601.4,1118.8 L602.39,1120.37 L603.46,1121.96 L604.66,1123.54 L606.08,1125.1 L607.77,1126.63 L609.8,1128.1 L612.32,1129.52 L615.29,1130.89 L618.54,1132.22 L621.89,1133.53 L625.13,1134.82 L628.1,1136.1 L630.75,1137.37 L633.21,1138.61 L635.58,1139.83 L637.94,1141.05 L640.39,1142.27 L643,1143.5 L645.76,1144.75 L648.61,1146 L651.53,1147.25 L654.54,1148.5 L657.63,1149.75 L660.8,1151 L664.08,1152.25 L667.48,1153.5 L670.96,1154.75 L674.5,1155.99 L678.05,1157.21 L681.6,1158.4 L685.76,1159.57 L690.67,1160.74 L695.61,1161.89 L699.83,1163 L702.61,1164.08 L703.2,1165.1 L701.21,1166.06 L697.14,1166.97 L691.62,1167.84 L685.29,1168.68 L678.77,1169.5 L672.7,1170.3 L666.8,1171.08 L660.52,1171.82 L654.05,1172.54 L647.59,1173.26 L641.34,1173.97 L635.5,1174.7 L630,1175.44 L624.66,1176.19 L619.53,1176.94 L614.65,1177.7 L610.06,1178.45 L605.8,1179.2 L601.81,1179.97 L598.05,1180.76 L594.57,1181.55 L591.45,1182.32 L588.74,1183.04 L586.5,1183.7 L584.84,1184.31 L583.74,1184.89 L583.04,1185.43 L582.62,1185.91 L582.32,1186.3 L582,1186.6 Z' fill='#e69f00'/>
<line x1='273.4' y1='1001' x2='273.4' y2='1187' stroke='#ffffff' stroke-width='1' />
<line x1='582' y1='1012' x2='582' y2='1186.5' stroke='#ffffff' stroke-width='1' />
<circle cx='257.9' cy='881.5' r='2' fill='#000' />
<circle cx='257.9' cy='939.8' r='2' fill='#000' />
<circle cx='257.9' cy='955.1' r='2' fill='#000' />
<circle cx='257.9' cy='966' r='2' fill='#000' />
<circle cx='257.9' cy='968.5' r='2' fill='#000' />
<circle cx='257.9' cy='970.2' r='2' fill='#000' />
<circle cx='257.9' cy='974.2' r='2' fill='#000' />
<circle cx='257.9' cy='979.1' r='2' fill='#000' />
<circle cx='257.9' cy='982.7' r='2' fill='#000' />
<circle cx='257.9' cy='985.5' r='2' fill='#000' />
<circle cx='257.9' cy='988.3' r='2' fill='#000' />
<circle cx='257.9' cy='991.1' r='2' fill='#000' />
<line x1='257.9' y1='996.3' x2='257.9' y2='1172.7' stroke='#000' stroke-width='4' stroke-linecap='round'/>
<circle cx='288.8' cy='836.7' r='2' fill='#000' />
<circle cx='288.8' cy='924.6' r='2' fill='#000' />
<circle cx='288.8' cy='949.9' r='2' fill='#000' />
<circle cx='288.8' cy='955.6' r='2' fill='#000' />
<circle cx='288.8' cy='957.2' r='2' fill='#000' />
<circle cx='288.8' cy='967.6' r='2' fill='#000' />
<circle cx='288.8' cy='972.3' r='2' fill='#000' />
<circle cx='288.8' cy='974.73' r='2' fill='#000' />
<circle cx='288.8' cy='977.17' r='2' fill='#000' />
<circle cx='288.8' cy='979.6' r='2' fill='#000' />
<circle cx='288.8' cy='982.03' r='2' fill='#000' />
<circle cx='288.8' cy='984.47' r='2' fill='#000' />
<circle cx='288.8' cy='986.9' r='2' fill='#000' />
<line x1='288.8' y1='993.2' x2='288.8' y2='1172.7' stroke='#000' stroke-width='4' stroke-linecap='round'/>
<circle cx='566.6' cy='799.6' r='2' fill='#000' />
<circle cx='566.6' cy='923.5' r='2' fill='#000' />
<circle cx='566.6' cy='970.3' r='2' fill='#000' />
<circle cx='566.6' cy='989.4' r='2' fill='#000' />
<circle cx='566.6' cy='1010.2' r='2' fill='#000' />
<circle cx='566.6' cy='1016.5' r='2' fill='#000' />
<circle cx='566.6' cy='1033' r='2' fill='#000' />
<circle cx='566.6' cy='1037.5' r='2' fill='#000' />
<circle cx='566.6' cy='1042.4' r='2' fill='#000' />
<circle cx='566.6' cy='1062.7' r='2' fill='#000' />
<circle cx='566.6' cy='1069.3' r='2' fill='#000' />
<circle cx='566.6' cy='1071.1' r='2' fill='#000' />
<circle cx='566.6' cy='1055.3' r='2' fill='#000' />
<circle cx='566.6' cy='1056.9' r='2' fill='#000' />
<circle cx='566.6' cy='1058.5' r='2' fill='#000' />
<circle cx='566.6' cy='1075.8' r='2' fill='#000' />
<circle cx='566.6' cy='1078.6' r='2' fill='#000' />
<circle cx='566.6' cy='1081.4' r='2' fill='#000' />
<circle cx='566.6' cy='1084.2' r='2' fill='#000' />
<line x1='566.6' y1='1088' x2='566.6' y2='1172.7' stroke='#000' stroke-width='4' stroke-linecap='round'/>
<circle cx='597.4' cy='849.1' r='2' fill='#000' />
<circle cx='597.4' cy='956' r='2' fill='#000' />
<circle cx='597.4' cy='987.1' r='2' fill='#000' />
<circle cx='597.4' cy='1031.9' r='2' fill='#000' />
<circle cx='597.4' cy='1034.32' r='2' fill='#000' />
<circle cx='597.4' cy='1036.74' r='2' fill='#000' />
<circle cx='597.4' cy='1039.16' r='2' fill='#000' />
<circle cx='597.4' cy='1041.58' r='2' fill='#000' />
<circle cx='597.4' cy='1044' r='2' fill='#000' />
<circle cx='597.4' cy='1051.5' r='2' fill='#000' />
<circle cx='597.4' cy='1053.71' r='2' fill='#000' />
<circle cx='597.4' cy='1055.92' r='2' fill='#000' />
<circle cx='597.4' cy='1058.13' r='2' fill='#000' />
<circle cx='597.4' cy='1060.34' r='2' fill='#000' />
<circle cx='597.4' cy='1062.55' r='2' fill='#000' />
<circle cx='597.4' cy='1064.75' r='2' fill='#000' />
<circle cx='597.4' cy='1066.96' r='2' fill='#000' />
<circle cx='597.4' cy='1069.17' r='2' fill='#000' />
<circle cx='597.4' cy='1071.38' r='2' fill='#000' />
<circle cx='597.4' cy='1073.59' r='2' fill='#000' />
<circle cx='597.4' cy='1075.8' r='2' fill='#000' />
<circle cx='597.4' cy='1076.7' r='2' fill='#000' />
<circle cx='597.4' cy='1079.04' r='2' fill='#000' />
<circle cx='597.4' cy='1081.37' r='2' fill='#000' />
<circle cx='597.4' cy='1083.71' r='2' fill='#000' />
<circle cx='597.4' cy='1086.04' r='2' fill='#000' />
<circle cx='597.4' cy='1088.38' r='2' fill='#000' />
<circle cx='597.4' cy='1090.71' r='2' fill='#000' />
<circle cx='597.4' cy='1093.05' r='2' fill='#000' />
<circle cx='597.4' cy='1095.39' r='2' fill='#000' />
<circle cx='597.4' cy='1097.72' r='2' fill='#000' />
<circle cx='597.4' cy='1100.06' r='2' fill='#000' />
<circle cx='597.4' cy='1102.39' r='2' fill='#000' />
<circle cx='597.4' cy='1104.73' r='2' fill='#000' />
<circle cx='597.4' cy='1107.06' r='2' fill='#000' />
<circle cx='597.4' cy='1109.4' r='2' fill='#000' />
<line x1='597.4' y1='1111.3' x2='597.4' y2='1172.7' stroke='#000' stroke-width='4' stroke-linecap='round'/>
<circle cx='412' cy='1164.5' r='2' fill='#000' />
<circle cx='443' cy='1143.1' r='2' fill='#000' />
<line x1='234.5' y1='1087.6' x2='234.5' y2='1162.6' stroke='#000' stroke-width='1.7' />
<line x1='230.6' y1='1087.6' x2='238.4' y2='1087.6' stroke='#000' stroke-width='1.7' />
<line x1='230.6' y1='1162.6' x2='238.4' y2='1162.6' stroke='#000' stroke-width='1.7' />
<circle cx='234.5' cy='1125.1' r='2.6' fill='#000' />
<line x1='312.1' y1='1087' x2='312.1' y2='1162.8' stroke='#000' stroke-width='1.7' />
<line x1='308.2' y1='1087' x2='316' y2='1087' stroke='#000' stroke-width='1.7' />
<line x1='308.2' y1='1162.8' x2='316' y2='1162.8' stroke='#000' stroke-width='1.7' />
<circle cx='312.1' cy='1124.8' r='2.6' fill='#000' />
<line x1='543.4' y1='1104.1' x2='543.4' y2='1186.3' stroke='#000' stroke-width='1.7' />
<line x1='539.5' y1='1104.1' x2='547.3' y2='1104.1' stroke='#000' stroke-width='1.7' />
<line x1='539.5' y1='1186.3' x2='547.3' y2='1186.3' stroke='#000' stroke-width='1.7' />
<circle cx='543.4' cy='1145.3' r='2.6' fill='#000' />
<line x1='620.7' y1='1109' x2='620.7' y2='1178.5' stroke='#000' stroke-width='1.7' />
<line x1='616.8' y1='1109' x2='624.6' y2='1109' stroke='#000' stroke-width='1.7' />
<line x1='616.8' y1='1178.5' x2='624.6' y2='1178.5' stroke='#000' stroke-width='1.7' />
<circle cx='620.7' cy='1143.8' r='2.6' fill='#000' />
<rect x='649' y='775.2' width='15' height='14.7' fill='#56b4e9'/>
<rect x='649' y='793' width='15' height='14.7' fill='#e69f00'/>
<circle cx='656.5' cy='782.55' r='2.6' fill='#000' />
<circle cx='656.5' cy='800.35' r='2.6' fill='#000' />
<text x='686' y='787.9' font-family="'Liberation Sans', Arial, sans-serif" font-size='10.7' font-weight='normal' font-style='normal' text-anchor='middle' fill='#1a1a1a' >Ex_TC</text>
<text x='686' y='805.7' font-family="'Liberation Sans', Arial, sans-serif" font-size='10.7' font-weight='normal' font-style='normal' text-anchor='middle' fill='#1a1a1a' >In_TC</text>
<text x='0' y='0' font-family="'Liberation Serif', 'Times New Roman', serif" font-size='29' font-weight='bold' text-anchor='end' fill='#222' transform='translate(288.7,1245.3) rotate(-28.5)'>CG-DMR</text>
<text x='0' y='0' font-family="'Liberation Serif', 'Times New Roman', serif" font-size='29' font-weight='bold' text-anchor='end' fill='#222' transform='translate(443.7,1242.9) rotate(-28.5)'>CHG-DMR</text>
<text x='0' y='0' font-family="'Liberation Serif', 'Times New Roman', serif" font-size='29' font-weight='bold' text-anchor='end' fill='#222' transform='translate(596.6,1242.9) rotate(-28.5)'>CHH-DMR</text>
<line x1='785.9' y1='728.5' x2='785.9' y2='1222.4' stroke='#555555' stroke-width='1.8' />
<line x1='785' y1='1221.5' x2='1279' y2='1221.5' stroke='#555555' stroke-width='1.8' />
<line x1='783.1' y1='1157.7' x2='785.9' y2='1157.7' stroke='#555555' stroke-width='1.4' />
<text x='781.6' y='1162.8' font-family="'Liberation Sans', Arial, sans-serif" font-size='14.1' font-weight='bold' font-style='normal' text-anchor='end' fill='#000' >0</text>
<line x1='783.1' y1='1002.7' x2='785.9' y2='1002.7' stroke='#555555' stroke-width='1.4' />
<text x='781.6' y='1007.8' font-family="'Liberation Sans', Arial, sans-serif" font-size='14.1' font-weight='bold' font-style='normal' text-anchor='end' fill='#000' >500</text>
<line x1='783.1' y1='847.8' x2='785.9' y2='847.8' stroke='#555555' stroke-width='1.4' />
<text x='781.6' y='852.9' font-family="'Liberation Sans', Arial, sans-serif" font-size='14.1' font-weight='bold' font-style='normal' text-anchor='end' fill='#000' >1000</text>
<line x1='878.3' y1='1221.5' x2='878.3' y2='1224.2' stroke='#555555' stroke-width='1.4' />
<line x1='1032.4' y1='1221.5' x2='1032.4' y2='1224.2' stroke='#555555' stroke-width='1.4' />
<line x1='1186.6' y1='1221.5' x2='1186.6' y2='1224.2' stroke='#555555' stroke-width='1.4' />
<path d='M878.3,1000.4 L878.22,1002.67 L878.12,1005.82 L878,1009.54 L877.86,1013.56 L877.69,1017.57 L877.5,1021.3 L877.28,1024.9 L877.02,1028.66 L876.74,1032.41 L876.46,1036.01 L876.17,1039.32 L875.9,1042.2 L875.68,1044.54 L875.49,1046.44 L875.31,1048.05 L875.1,1049.51 L874.81,1050.98 L874.4,1052.6 L873.85,1054.35 L873.18,1056.1 L872.44,1057.85 L871.66,1059.6 L870.9,1061.35 L870.2,1063.1 L869.54,1064.84 L868.87,1066.57 L868.22,1068.31 L867.6,1070.04 L867.02,1071.77 L866.5,1073.5 L866.04,1075.23 L865.62,1076.96 L865.25,1078.69 L864.92,1080.43 L864.64,1082.16 L864.4,1083.9 L864.23,1085.53 L864.14,1087.02 L864.09,1088.51 L864.05,1090.15 L864,1092.06 L863.9,1094.4 L863.76,1097.24 L863.59,1100.5 L863.41,1104.04 L863.22,1107.72 L863.01,1111.42 L862.8,1115 L862.6,1118.67 L862.41,1122.58 L862.21,1126.51 L861.97,1130.22 L861.68,1133.49 L861.3,1136.1 L860.8,1137.9 L860.18,1139.04 L859.51,1139.74 L858.83,1140.23 L858.21,1140.71 L857.7,1141.4 L857.27,1142.27 L856.86,1143.14 L856.51,1144.01 L856.25,1144.87 L856.1,1145.73 L856.1,1146.6 L856.24,1147.47 L856.5,1148.33 L856.88,1149.2 L857.37,1150.07 L857.98,1150.93 L858.7,1151.8 L859.58,1152.67 L860.64,1153.53 L861.81,1154.4 L863.04,1155.27 L864.29,1156.13 L865.5,1157 L866.71,1157.87 L867.96,1158.73 L869.23,1159.59 L870.48,1160.46 L871.68,1161.33 L872.8,1162.2 L873.88,1163.14 L874.97,1164.16 L876.01,1165.18 L876.94,1166.12 L877.72,1166.92 L878.3,1167.5 Z' fill='#56b4e9'/>
<path d='M878.3,1000.4 L878.44,1002.67 L878.63,1005.82 L878.86,1009.54 L879.1,1013.56 L879.36,1017.57 L879.6,1021.3 L879.84,1024.9 L880.08,1028.66 L880.33,1032.41 L880.59,1036.01 L880.84,1039.32 L881.1,1042.2 L881.34,1044.54 L881.57,1046.44 L881.8,1048.05 L882.05,1049.51 L882.35,1050.98 L882.7,1052.6 L883.13,1054.35 L883.62,1056.1 L884.15,1057.85 L884.7,1059.6 L885.26,1061.35 L885.8,1063.1 L886.33,1064.84 L886.88,1066.57 L887.43,1068.31 L887.97,1070.04 L888.5,1071.77 L889,1073.5 L889.47,1075.05 L889.93,1076.39 L890.36,1077.72 L890.79,1079.27 L891.2,1081.26 L891.6,1083.9 L891.99,1087.34 L892.37,1091.44 L892.74,1095.97 L893.1,1100.72 L893.45,1105.47 L893.8,1110 L894.13,1114.59 L894.44,1119.47 L894.74,1124.35 L895.06,1128.94 L895.41,1132.95 L895.8,1136.1 L896.26,1138.19 L896.79,1139.41 L897.34,1140.06 L897.9,1140.41 L898.43,1140.76 L898.9,1141.4 L899.37,1142.27 L899.87,1143.14 L900.34,1144.01 L900.73,1144.87 L900.97,1145.73 L901,1146.6 L900.81,1147.47 L900.44,1148.33 L899.92,1149.2 L899.29,1150.07 L898.57,1150.93 L897.8,1151.8 L896.95,1152.67 L896,1153.53 L894.96,1154.4 L893.86,1155.27 L892.73,1156.13 L891.6,1157 L890.43,1157.87 L889.2,1158.73 L887.94,1159.59 L886.68,1160.46 L885.45,1161.33 L884.3,1162.2 L883.16,1163.14 L881.98,1164.16 L880.84,1165.18 L879.81,1166.12 L878.94,1166.92 L878.3,1167.5 Z' fill='#e69f00'/>
<path d='M1033.1,1022.9 L1033.37,1024.21 L1033.73,1026.03 L1034.16,1028.18 L1034.64,1030.47 L1035.13,1032.71 L1035.6,1034.7 L1036.08,1036.46 L1036.6,1038.14 L1037.13,1039.77 L1037.66,1041.37 L1038.15,1042.97 L1038.6,1044.6 L1039.01,1046.25 L1039.4,1047.9 L1039.77,1049.55 L1040.1,1051.2 L1040.38,1052.85 L1040.6,1054.5 L1040.75,1056.15 L1040.84,1057.8 L1040.88,1059.45 L1040.89,1061.1 L1040.89,1062.75 L1040.9,1064.4 L1040.9,1066.05 L1040.88,1067.7 L1040.85,1069.35 L1040.83,1071 L1040.84,1072.65 L1040.9,1074.3 L1041.01,1075.95 L1041.15,1077.6 L1041.33,1079.25 L1041.53,1080.9 L1041.75,1082.55 L1042,1084.2 L1042.26,1085.85 L1042.54,1087.5 L1042.85,1089.15 L1043.19,1090.8 L1043.57,1092.45 L1044,1094.1 L1044.5,1095.75 L1045.06,1097.4 L1045.66,1099.05 L1046.29,1100.7 L1046.91,1102.35 L1047.5,1104 L1048.08,1105.65 L1048.67,1107.3 L1049.26,1108.96 L1049.84,1110.61 L1050.39,1112.26 L1050.9,1113.9 L1051.39,1115.54 L1051.86,1117.17 L1052.3,1118.8 L1052.71,1120.43 L1053.08,1122.06 L1053.4,1123.7 L1053.7,1125.34 L1053.99,1126.99 L1054.24,1128.64 L1054.42,1130.3 L1054.48,1131.95 L1054.4,1133.6 L1054.17,1135.25 L1053.8,1136.9 L1053.33,1138.55 L1052.76,1140.2 L1052.11,1141.85 L1051.4,1143.5 L1050.58,1145.15 L1049.65,1146.8 L1048.63,1148.45 L1047.57,1150.1 L1046.52,1151.75 L1045.5,1153.4 L1044.5,1155.05 L1043.48,1156.7 L1042.46,1158.35 L1041.46,1160 L1040.5,1161.65 L1039.6,1163.3 L1038.74,1164.96 L1037.9,1166.64 L1037.11,1168.31 L1036.36,1169.97 L1035.69,1171.61 L1035.1,1173.2 L1034.6,1174.84 L1034.17,1176.57 L1033.82,1178.27 L1033.53,1179.83 L1033.29,1181.14 L1033.1,1182.1 Z' fill='#e69f00'/>
<path d='M1186.5,1034 L1186.42,1035.63 L1186.3,1037.83 L1186.16,1040.47 L1186.01,1043.38 L1185.85,1046.41 L1185.7,1049.4 L1185.54,1052.55 L1185.38,1056.01 L1185.21,1059.59 L1185.04,1063.1 L1184.87,1066.33 L1184.7,1069.1 L1184.52,1071.32 L1184.33,1073.13 L1184.14,1074.66 L1183.96,1076.06 L1183.81,1077.46 L1183.7,1079 L1183.67,1080.65 L1183.72,1082.3 L1183.79,1083.95 L1183.85,1085.6 L1183.83,1087.25 L1183.7,1088.9 L1183.42,1090.55 L1183.03,1092.2 L1182.58,1093.85 L1182.09,1095.5 L1181.62,1097.15 L1181.2,1098.8 L1180.88,1100.45 L1180.64,1102.1 L1180.41,1103.75 L1180.14,1105.4 L1179.75,1107.05 L1179.2,1108.7 L1178.42,1110.41 L1177.45,1112.18 L1176.37,1113.96 L1175.27,1115.66 L1174.22,1117.23 L1173.3,1118.6 L1172.54,1119.72 L1171.88,1120.63 L1171.27,1121.41 L1170.67,1122.12 L1170.03,1122.83 L1169.3,1123.6 L1168.52,1124.42 L1167.73,1125.24 L1166.91,1126.05 L1166.01,1126.86 L1165.02,1127.68 L1163.9,1128.5 L1162.7,1129.31 L1161.47,1130.09 L1160.13,1130.87 L1158.64,1131.69 L1156.95,1132.56 L1155,1133.5 L1152.58,1134.55 L1149.68,1135.69 L1146.58,1136.88 L1143.53,1138.08 L1140.82,1139.27 L1138.7,1140.4 L1137.08,1141.5 L1135.74,1142.59 L1134.72,1143.67 L1134.09,1144.71 L1133.89,1145.69 L1134.2,1146.6 L1135.03,1147.38 L1136.34,1148.05 L1138.1,1148.66 L1140.26,1149.27 L1142.77,1149.97 L1145.6,1150.8 L1148.99,1151.8 L1153.03,1152.91 L1157.42,1154.1 L1161.89,1155.32 L1166.15,1156.54 L1169.9,1157.7 L1173.3,1158.89 L1176.62,1160.17 L1179.72,1161.43 L1182.48,1162.6 L1184.78,1163.59 L1186.5,1164.3 Z' fill='#56b4e9'/>
<path d='M1186.5,1043.9 L1186.77,1044.45 L1187.17,1045.16 L1187.64,1046.03 L1188.08,1047.04 L1188.43,1048.17 L1188.6,1049.4 L1188.55,1050.74 L1188.33,1052.19 L1188.01,1053.77 L1187.66,1055.47 L1187.37,1057.32 L1187.2,1059.3 L1187.14,1061.54 L1187.14,1064.05 L1187.19,1066.7 L1187.28,1069.35 L1187.42,1071.86 L1187.6,1074.1 L1187.84,1075.98 L1188.15,1077.58 L1188.5,1079.05 L1188.87,1080.52 L1189.25,1082.12 L1189.6,1084 L1189.93,1086.24 L1190.27,1088.75 L1190.6,1091.4 L1190.93,1094.05 L1191.27,1096.56 L1191.6,1098.8 L1191.9,1100.73 L1192.16,1102.46 L1192.42,1104.06 L1192.72,1105.58 L1193.1,1107.11 L1193.6,1108.7 L1194.2,1110.35 L1194.87,1112 L1195.62,1113.65 L1196.46,1115.3 L1197.42,1116.95 L1198.5,1118.6 L1199.8,1120.31 L1201.31,1122.08 L1202.94,1123.86 L1204.57,1125.56 L1206.1,1127.13 L1207.4,1128.5 L1208.44,1129.62 L1209.29,1130.53 L1210.03,1131.31 L1210.74,1132.02 L1211.5,1132.73 L1212.4,1133.5 L1213.29,1134.32 L1214.08,1135.12 L1214.92,1135.92 L1215.97,1136.73 L1217.38,1137.56 L1219.3,1138.4 L1221.9,1139.27 L1225.1,1140.17 L1228.66,1141.08 L1232.33,1142 L1235.89,1142.91 L1239.1,1143.8 L1242.5,1144.69 L1246.41,1145.57 L1250.19,1146.46 L1253.25,1147.33 L1254.96,1148.18 L1254.7,1149 L1252,1149.77 L1247.26,1150.5 L1241.17,1151.21 L1234.44,1151.92 L1227.75,1152.68 L1221.8,1153.5 L1216.19,1154.41 L1210.27,1155.4 L1204.4,1156.42 L1198.93,1157.46 L1194.21,1158.46 L1190.6,1159.4 L1188.3,1160.33 L1187.07,1161.29 L1186.6,1162.22 L1186.56,1163.07 L1186.63,1163.78 L1186.5,1164.3 Z' fill='#e69f00'/>
<line x1='878.3' y1='1000.5' x2='878.3' y2='1167.2' stroke='#ffffff' stroke-width='1' />
<line x1='1186.5' y1='1034' x2='1186.5' y2='1164.2' stroke='#ffffff' stroke-width='1' />
<circle cx='862.9' cy='840.7' r='1.65' fill='#000' />
<circle cx='862.9' cy='877.2' r='1.65' fill='#000' />
<circle cx='862.9' cy='937.5' r='1.65' fill='#000' />
<circle cx='862.9' cy='939.2' r='1.65' fill='#000' />
<circle cx='862.9' cy='943.1' r='1.65' fill='#000' />
<circle cx='862.9' cy='952.4' r='1.65' fill='#000' />
<circle cx='862.9' cy='970.8' r='1.65' fill='#000' />
<circle cx='862.9' cy='973' r='1.65' fill='#000' />
<circle cx='862.9' cy='975.2' r='1.65' fill='#000' />
<circle cx='862.9' cy='977.4' r='1.65' fill='#000' />
<line x1='862.9' y1='980' x2='862.9' y2='1154.9' stroke='#000' stroke-width='3.3' stroke-linecap='round'/>
<circle cx='893.9' cy='769.1' r='1.65' fill='#000' />
<circle cx='893.9' cy='780.1' r='1.65' fill='#000' />
<circle cx='893.9' cy='819.6' r='1.65' fill='#000' />
<circle cx='893.9' cy='829.5' r='1.65' fill='#000' />
<circle cx='893.9' cy='871.6' r='1.65' fill='#000' />
<circle cx='893.9' cy='904.9' r='1.65' fill='#000' />
<circle cx='893.9' cy='907.5' r='1.65' fill='#000' />
<circle cx='893.9' cy='933.9' r='1.65' fill='#000' />
<circle cx='893.9' cy='937.2' r='1.65' fill='#000' />
<circle cx='893.9' cy='942.7' r='1.65' fill='#000' />
<circle cx='893.9' cy='948.8' r='1.65' fill='#000' />
<circle cx='893.9' cy='920.7' r='1.65' fill='#000' />
<circle cx='893.9' cy='922.53' r='1.65' fill='#000' />
<circle cx='893.9' cy='924.35' r='1.65' fill='#000' />
<circle cx='893.9' cy='926.17' r='1.65' fill='#000' />
<circle cx='893.9' cy='928' r='1.65' fill='#000' />
<circle cx='893.9' cy='954.3' r='1.65' fill='#000' />
<circle cx='893.9' cy='955.65' r='1.65' fill='#000' />
<circle cx='893.9' cy='957' r='1.65' fill='#000' />
<circle cx='893.9' cy='962.3' r='1.65' fill='#000' />
<circle cx='893.9' cy='964.25' r='1.65' fill='#000' />
<circle cx='893.9' cy='966.2' r='1.65' fill='#000' />
<line x1='893.9' y1='967.5' x2='893.9' y2='1154.9' stroke='#000' stroke-width='3.3' stroke-linecap='round'/>
<circle cx='1017.3' cy='1069.1' r='1.65' fill='#000' />
<circle cx='1048' cy='1058.2' r='1.65' fill='#000' />
<circle cx='1048' cy='1097.4' r='1.65' fill='#000' />
<circle cx='1048' cy='1125' r='1.65' fill='#000' />
<circle cx='1048' cy='1134.3' r='1.65' fill='#000' />
<circle cx='1048' cy='1145.5' r='1.65' fill='#000' />
<circle cx='1171.3' cy='878.3' r='1.65' fill='#000' />
<circle cx='1171.3' cy='1002.9' r='1.65' fill='#000' />
<circle cx='1171.3' cy='1009.3' r='1.65' fill='#000' />
<circle cx='1171.3' cy='1017.2' r='1.65' fill='#000' />
<circle cx='1171.3' cy='1021.9' r='1.65' fill='#000' />
<circle cx='1171.3' cy='1033.7' r='1.65' fill='#000' />
<circle cx='1171.3' cy='1039.2' r='1.65' fill='#000' />
<circle cx='1171.3' cy='1045.4' r='1.65' fill='#000' />
<circle cx='1171.3' cy='1047.62' r='1.65' fill='#000' />
<circle cx='1171.3' cy='1049.85' r='1.65' fill='#000' />
<circle cx='1171.3' cy='1052.08' r='1.65' fill='#000' />
<circle cx='1171.3' cy='1054.3' r='1.65' fill='#000' />
<circle cx='1171.3' cy='1059.3' r='1.65' fill='#000' />
<circle cx='1171.3' cy='1061.14' r='1.65' fill='#000' />
<circle cx='1171.3' cy='1062.97' r='1.65' fill='#000' />
<circle cx='1171.3' cy='1064.81' r='1.65' fill='#000' />
<circle cx='1171.3' cy='1066.64' r='1.65' fill='#000' />
<circle cx='1171.3' cy='1068.48' r='1.65' fill='#000' />
<circle cx='1171.3' cy='1070.31' r='1.65' fill='#000' />
<circle cx='1171.3' cy='1072.15' r='1.65' fill='#000' />
<circle cx='1171.3' cy='1073.99' r='1.65' fill='#000' />
<circle cx='1171.3' cy='1075.82' r='1.65' fill='#000' />
<circle cx='1171.3' cy='1077.66' r='1.65' fill='#000' />
<circle cx='1171.3' cy='1079.49' r='1.65' fill='#000' />
<circle cx='1171.3' cy='1081.33' r='1.65' fill='#000' />
<circle cx='1171.3' cy='1083.16' r='1.65' fill='#000' />
<circle cx='1171.3' cy='1085' r='1.65' fill='#000' />
<line x1='1171.3' y1='1089' x2='1171.3' y2='1154.9' stroke='#000' stroke-width='3.3' stroke-linecap='round'/>
<circle cx='1202.3' cy='1046.1' r='1.65' fill='#000' />
<circle cx='1202.3' cy='1049.4' r='1.65' fill='#000' />
<circle cx='1202.3' cy='1055.3' r='1.65' fill='#000' />
<circle cx='1202.3' cy='1064.2' r='1.65' fill='#000' />
<circle cx='1202.3' cy='1073.9' r='1.65' fill='#000' />
<circle cx='1202.3' cy='1081' r='1.65' fill='#000' />
<circle cx='1202.3' cy='1082.84' r='1.65' fill='#000' />
<circle cx='1202.3' cy='1084.69' r='1.65' fill='#000' />
<circle cx='1202.3' cy='1086.53' r='1.65' fill='#000' />
<circle cx='1202.3' cy='1088.37' r='1.65' fill='#000' />
<circle cx='1202.3' cy='1090.21' r='1.65' fill='#000' />
<circle cx='1202.3' cy='1092.06' r='1.65' fill='#000' />
<circle cx='1202.3' cy='1093.9' r='1.65' fill='#000' />
<line x1='1202.3' y1='1097.8' x2='1202.3' y2='1154.9' stroke='#000' stroke-width='3.3' stroke-linecap='round'/>
<line x1='839.9' y1='1070.9' x2='839.9' y2='1144.5' stroke='#111' stroke-width='1.5' />
<line x1='836' y1='1070.9' x2='843.8' y2='1070.9' stroke='#111' stroke-width='1.5' />
<line x1='836' y1='1144.5' x2='843.8' y2='1144.5' stroke='#111' stroke-width='1.5' />
<circle cx='839.9' cy='1107.7' r='2.3' fill='#000' />
<line x1='917' y1='1067.8' x2='917' y2='1145' stroke='#111' stroke-width='1.5' />
<line x1='913.1' y1='1067.8' x2='920.9' y2='1067.8' stroke='#111' stroke-width='1.5' />
<line x1='913.1' y1='1145' x2='920.9' y2='1145' stroke='#111' stroke-width='1.5' />
<circle cx='917' cy='1106.4' r='2.3' fill='#000' />
<line x1='1071' y1='1077.3' x2='1071' y2='1147' stroke='#111' stroke-width='1.5' />
<line x1='1067.1' y1='1077.3' x2='1074.9' y2='1077.3' stroke='#111' stroke-width='1.5' />
<line x1='1067.1' y1='1147' x2='1074.9' y2='1147' stroke='#111' stroke-width='1.5' />
<circle cx='1071' cy='1111.9' r='2.3' fill='#000' />
<line x1='1148.1' y1='1097.8' x2='1148.1' y2='1160.4' stroke='#111' stroke-width='1.5' />
<line x1='1144.2' y1='1097.8' x2='1152' y2='1097.8' stroke='#111' stroke-width='1.5' />
<line x1='1144.2' y1='1160.4' x2='1152' y2='1160.4' stroke='#111' stroke-width='1.5' />
<circle cx='1148.1' cy='1129.3' r='2.3' fill='#000' />
<line x1='1225.2' y1='1115.1' x2='1225.2' y2='1157.7' stroke='#111' stroke-width='1.5' />
<line x1='1221.3' y1='1115.1' x2='1229.1' y2='1115.1' stroke='#111' stroke-width='1.5' />
<line x1='1221.3' y1='1157.7' x2='1229.1' y2='1157.7' stroke='#111' stroke-width='1.5' />
<circle cx='1225.2' cy='1136.2' r='2.3' fill='#000' />
<rect x='1209' y='790.8' width='12.8' height='12.5' fill='#56b4e9'/>
<rect x='1209' y='806' width='12.8' height='12.5' fill='#e69f00'/>
<circle cx='1215.4' cy='797.05' r='2.6' fill='#000' />
<circle cx='1215.4' cy='812.25' r='2.6' fill='#000' />
<text x='1245.2' y='802.9' font-family="'Liberation Sans', Arial, sans-serif" font-size='10.7' font-weight='normal' font-style='normal' text-anchor='middle' fill='#1a1a1a' >Ex_WC</text>
<text x='1245.2' y='817.4' font-family="'Liberation Sans', Arial, sans-serif" font-size='10.7' font-weight='normal' font-style='normal' text-anchor='middle' fill='#1a1a1a' >In_WC</text>
<text x='0' y='0' font-family="'Liberation Serif', 'Times New Roman', serif" font-size='29' font-weight='bold' text-anchor='end' fill='#222' transform='translate(897.9,1245.3) rotate(-28.5)'>CG-DMR</text>
<text x='0' y='0' font-family="'Liberation Serif', 'Times New Roman', serif" font-size='29' font-weight='bold' text-anchor='end' fill='#222' transform='translate(1049.8,1242.9) rotate(-28.5)'>CHG-DMR</text>
<text x='0' y='0' font-family="'Liberation Serif', 'Times New Roman', serif" font-size='29' font-weight='bold' text-anchor='end' fill='#222' transform='translate(1205.6,1242.9) rotate(-28.5)'>CHH-DMR</text>
<line x1='1383.3' y1='699.7' x2='1383.3' y2='1223.2' stroke='#333333' stroke-width='1.7' />
<line x1='1382.5' y1='1222.3' x2='1920.5' y2='1222.3' stroke='#333333' stroke-width='1.7' />
<line x1='1380.3' y1='1138.1' x2='1383.3' y2='1138.1' stroke='#333333' stroke-width='1.4' />
<text x='1378.6' y='1143.7' font-family="'Liberation Sans', Arial, sans-serif" font-size='15.6' font-weight='bold' font-style='normal' text-anchor='end' fill='#000' >0</text>
<line x1='1380.3' y1='1036.6' x2='1383.3' y2='1036.6' stroke='#333333' stroke-width='1.4' />
<text x='1378.6' y='1042.2' font-family="'Liberation Sans', Arial, sans-serif" font-size='15.6' font-weight='bold' font-style='normal' text-anchor='end' fill='#000' >500</text>
<line x1='1380.3' y1='934.9' x2='1383.3' y2='934.9' stroke='#333333' stroke-width='1.4' />
<text x='1378.6' y='940.5' font-family="'Liberation Sans', Arial, sans-serif" font-size='15.6' font-weight='bold' font-style='normal' text-anchor='end' fill='#000' >1000</text>
<line x1='1380.3' y1='833' x2='1383.3' y2='833' stroke='#333333' stroke-width='1.4' />
<text x='1378.6' y='838.6' font-family="'Liberation Sans', Arial, sans-serif" font-size='15.6' font-weight='bold' font-style='normal' text-anchor='end' fill='#000' >1500</text>
<line x1='1380.3' y1='731.4' x2='1383.3' y2='731.4' stroke='#333333' stroke-width='1.4' />
<text x='1378.6' y='737' font-family="'Liberation Sans', Arial, sans-serif" font-size='15.6' font-weight='bold' font-style='normal' text-anchor='end' fill='#000' >2000</text>
<line x1='1483.8' y1='1222.3' x2='1483.8' y2='1225.2' stroke='#333333' stroke-width='1.4' />
<line x1='1651.7' y1='1222.3' x2='1651.7' y2='1225.2' stroke='#333333' stroke-width='1.4' />
<line x1='1819.7' y1='1222.3' x2='1819.7' y2='1225.2' stroke='#333333' stroke-width='1.4' />
<path d='M1483.6,1026.1 L1483.45,1027.94 L1483.26,1030.5 L1483.02,1033.52 L1482.76,1036.77 L1482.48,1040.01 L1482.2,1043 L1481.92,1045.87 L1481.62,1048.84 L1481.31,1051.79 L1480.99,1054.63 L1480.65,1057.23 L1480.3,1059.5 L1479.96,1061.35 L1479.65,1062.84 L1479.32,1064.11 L1478.94,1065.27 L1478.48,1066.42 L1477.9,1067.7 L1477.18,1069.08 L1476.34,1070.46 L1475.41,1071.85 L1474.44,1073.24 L1473.46,1074.62 L1472.5,1076 L1471.54,1077.37 L1470.55,1078.74 L1469.54,1080.11 L1468.55,1081.47 L1467.6,1082.83 L1466.7,1084.2 L1465.82,1085.57 L1464.92,1086.93 L1464.06,1088.29 L1463.29,1089.66 L1462.65,1091.03 L1462.2,1092.4 L1461.98,1093.78 L1461.96,1095.16 L1462.07,1096.55 L1462.26,1097.94 L1462.45,1099.32 L1462.6,1100.7 L1462.74,1102.07 L1462.94,1103.44 L1463.15,1104.8 L1463.33,1106.16 L1463.42,1107.53 L1463.4,1108.9 L1463.26,1110.28 L1463.04,1111.66 L1462.74,1113.05 L1462.36,1114.44 L1461.92,1115.82 L1461.4,1117.2 L1460.76,1118.6 L1459.98,1120.03 L1459.12,1121.46 L1458.27,1122.85 L1457.47,1124.17 L1456.8,1125.4 L1456.15,1126.53 L1455.46,1127.57 L1454.83,1128.56 L1454.36,1129.48 L1454.18,1130.36 L1454.4,1131.2 L1455.09,1131.99 L1456.17,1132.72 L1457.53,1133.41 L1459.07,1134.06 L1460.66,1134.68 L1462.2,1135.3 L1463.75,1135.9 L1465.42,1136.46 L1467.15,1137 L1468.88,1137.53 L1470.55,1138.06 L1472.1,1138.6 L1473.57,1139.15 L1475.01,1139.71 L1476.39,1140.27 L1477.68,1140.83 L1478.86,1141.37 L1479.9,1141.9 L1480.8,1142.44 L1481.57,1143 L1482.24,1143.56 L1482.79,1144.06 L1483.24,1144.49 L1483.6,1144.8 Z' fill='#56b4e9'/>
<path d='M1483.6,1029.8 L1483.72,1031.2 L1483.88,1033.1 L1484.07,1035.37 L1484.3,1037.87 L1484.58,1040.46 L1484.9,1043 L1485.31,1045.66 L1485.8,1048.56 L1486.33,1051.56 L1486.87,1054.49 L1487.37,1057.19 L1487.8,1059.5 L1488.09,1061.35 L1488.27,1062.84 L1488.42,1064.11 L1488.6,1065.27 L1488.91,1066.42 L1489.4,1067.7 L1490.13,1069.08 L1491.06,1070.46 L1492.09,1071.85 L1493.18,1073.24 L1494.24,1074.62 L1495.2,1076 L1496.06,1077.37 L1496.87,1078.74 L1497.65,1080.11 L1498.43,1081.47 L1499.24,1082.83 L1500.1,1084.2 L1501.07,1085.59 L1502.15,1086.99 L1503.26,1088.4 L1504.3,1089.79 L1505.21,1091.13 L1505.9,1092.4 L1506.36,1093.6 L1506.64,1094.75 L1506.79,1095.85 L1506.83,1096.92 L1506.79,1097.96 L1506.7,1099 L1506.51,1099.98 L1506.19,1100.9 L1505.78,1101.79 L1505.36,1102.71 L1504.98,1103.7 L1504.7,1104.8 L1504.49,1106.04 L1504.28,1107.39 L1504.12,1108.8 L1504.03,1110.25 L1504.05,1111.69 L1504.2,1113.1 L1504.5,1114.45 L1504.91,1115.78 L1505.43,1117.1 L1506.04,1118.44 L1506.74,1119.84 L1507.5,1121.3 L1508.51,1122.92 L1509.81,1124.69 L1511.19,1126.51 L1512.44,1128.27 L1513.35,1129.87 L1513.7,1131.2 L1513.43,1132.23 L1512.69,1133.03 L1511.6,1133.66 L1510.29,1134.21 L1508.89,1134.73 L1507.5,1135.3 L1506.07,1135.9 L1504.47,1136.46 L1502.78,1137 L1501.05,1137.53 L1499.33,1138.06 L1497.7,1138.6 L1496.1,1139.15 L1494.46,1139.71 L1492.85,1140.27 L1491.3,1140.83 L1489.87,1141.37 L1488.6,1141.9 L1487.47,1142.44 L1486.44,1143 L1485.53,1143.56 L1484.74,1144.06 L1484.1,1144.49 L1483.6,1144.8 Z' fill='#e69f00'/>
<path d='M1651.5,1011.5 L1651.34,1012.51 L1651.14,1013.9 L1650.89,1015.55 L1650.6,1017.34 L1650.27,1019.17 L1649.9,1020.9 L1649.47,1022.57 L1648.98,1024.29 L1648.44,1026.03 L1647.89,1027.79 L1647.33,1029.55 L1646.8,1031.3 L1646.26,1033.05 L1645.7,1034.8 L1645.14,1036.55 L1644.61,1038.3 L1644.12,1040.05 L1643.7,1041.8 L1643.35,1043.54 L1643.04,1045.27 L1642.79,1047 L1642.58,1048.73 L1642.42,1050.46 L1642.3,1052.2 L1642.25,1053.95 L1642.27,1055.7 L1642.34,1057.45 L1642.43,1059.2 L1642.52,1060.95 L1642.6,1062.7 L1642.67,1064.44 L1642.77,1066.17 L1642.86,1067.9 L1642.94,1069.63 L1643,1071.36 L1643,1073.1 L1642.96,1074.85 L1642.9,1076.6 L1642.81,1078.35 L1642.68,1080.1 L1642.51,1081.85 L1642.3,1083.6 L1642.04,1085.34 L1641.72,1087.07 L1641.37,1088.81 L1640.99,1090.54 L1640.6,1092.27 L1640.2,1094 L1639.79,1095.73 L1639.34,1097.46 L1638.89,1099.19 L1638.43,1100.93 L1638,1102.66 L1637.6,1104.4 L1637.22,1106.15 L1636.83,1107.9 L1636.47,1109.65 L1636.14,1111.4 L1635.88,1113.15 L1635.7,1114.9 L1635.6,1116.64 L1635.57,1118.37 L1635.6,1120.1 L1635.69,1121.83 L1635.82,1123.56 L1636,1125.3 L1636.23,1127.05 L1636.51,1128.8 L1636.85,1130.55 L1637.23,1132.3 L1637.65,1134.05 L1638.1,1135.8 L1638.6,1137.54 L1639.17,1139.27 L1639.78,1141 L1640.4,1142.73 L1641.01,1144.46 L1641.6,1146.2 L1642.16,1147.95 L1642.71,1149.7 L1643.26,1151.45 L1643.8,1153.2 L1644.35,1154.95 L1644.9,1156.7 L1645.47,1158.44 L1646.06,1160.17 L1646.66,1161.91 L1647.24,1163.64 L1647.79,1165.37 L1648.3,1167.1 L1648.78,1168.91 L1649.23,1170.8 L1649.66,1172.69 L1650.06,1174.49 L1650.4,1176.13 L1650.7,1177.5 L1650.94,1178.61 L1651.11,1179.51 L1651.25,1180.25 L1651.35,1180.84 L1651.43,1181.31 L1651.5,1181.7 Z' fill='#56b4e9'/>
<path d='M1651.5,1073.1 L1652.06,1074.3 L1652.86,1076.02 L1653.79,1078.02 L1654.76,1080.1 L1655.66,1082.04 L1656.4,1083.6 L1656.98,1084.77 L1657.47,1085.73 L1657.91,1086.53 L1658.29,1087.26 L1658.65,1087.99 L1659,1088.8 L1659.31,1089.67 L1659.55,1090.53 L1659.77,1091.4 L1659.99,1092.27 L1660.26,1093.13 L1660.6,1094 L1661.02,1094.87 L1661.48,1095.73 L1661.99,1096.6 L1662.53,1097.47 L1663.1,1098.33 L1663.7,1099.2 L1664.35,1100.07 L1665.06,1100.93 L1665.8,1101.79 L1666.54,1102.66 L1667.25,1103.53 L1667.9,1104.4 L1668.47,1105.28 L1668.97,1106.16 L1669.45,1107.05 L1669.93,1107.94 L1670.43,1108.82 L1671,1109.7 L1671.59,1110.57 L1672.16,1111.44 L1672.77,1112.31 L1673.45,1113.17 L1674.24,1114.03 L1675.2,1114.9 L1676.33,1115.77 L1677.61,1116.63 L1679.01,1117.5 L1680.5,1118.37 L1682.04,1119.23 L1683.6,1120.1 L1685.24,1120.97 L1687,1121.83 L1688.81,1122.7 L1690.61,1123.57 L1692.37,1124.43 L1694,1125.3 L1695.57,1126.2 L1697.13,1127.15 L1698.63,1128.09 L1700.03,1129 L1701.27,1129.81 L1702.3,1130.5 L1703.23,1131.02 L1704.12,1131.39 L1704.86,1131.67 L1705.32,1131.93 L1705.41,1132.22 L1705,1132.6 L1704.07,1133.05 L1702.71,1133.51 L1700.97,1134.01 L1698.91,1134.54 L1696.56,1135.14 L1694,1135.8 L1691.02,1136.55 L1687.53,1137.39 L1683.78,1138.28 L1679.97,1139.19 L1676.33,1140.11 L1673.1,1141 L1670.21,1141.88 L1667.49,1142.77 L1664.93,1143.66 L1662.57,1144.54 L1660.42,1145.39 L1658.5,1146.2 L1656.81,1147.01 L1655.34,1147.83 L1654.09,1148.63 L1653.03,1149.35 L1652.17,1149.95 L1651.5,1150.4 Z' fill='#e69f00'/>
<path d='M1819.6,1053.3 L1819.08,1055.99 L1818.36,1059.79 L1817.5,1064.26 L1816.59,1068.94 L1815.7,1073.4 L1814.9,1077.2 L1814.19,1080.4 L1813.51,1083.39 L1812.86,1086.14 L1812.21,1088.68 L1811.56,1091 L1810.9,1093.1 L1810.25,1094.89 L1809.62,1096.36 L1808.99,1097.6 L1808.34,1098.73 L1807.65,1099.86 L1806.9,1101.1 L1806.13,1102.42 L1805.36,1103.74 L1804.55,1105.05 L1803.65,1106.36 L1802.62,1107.68 L1801.4,1109 L1800.02,1110.33 L1798.5,1111.66 L1796.86,1112.99 L1795.06,1114.33 L1793.11,1115.67 L1791,1117 L1788.65,1118.35 L1786.05,1119.73 L1783.29,1121.1 L1780.47,1122.45 L1777.68,1123.76 L1775,1125 L1772.03,1126.19 L1768.6,1127.34 L1765.21,1128.46 L1762.31,1129.51 L1760.38,1130.5 L1759.9,1131.4 L1761.14,1132.19 L1763.79,1132.88 L1767.41,1133.5 L1771.57,1134.09 L1775.85,1134.67 L1779.8,1135.3 L1783.66,1135.95 L1787.82,1136.6 L1792.09,1137.24 L1796.29,1137.9 L1800.22,1138.59 L1803.7,1139.3 L1806.8,1140.08 L1809.68,1140.93 L1812.3,1141.8 L1814.61,1142.65 L1816.56,1143.43 L1818.1,1144.1 L1819.11,1144.67 L1819.61,1145.17 L1819.75,1145.6 L1819.69,1145.97 L1819.59,1146.27 L1819.6,1146.5 Z' fill='#56b4e9'/>
<path d='M1819.6,1074 L1819.86,1074.29 L1820.22,1074.66 L1820.65,1075.11 L1821.12,1075.67 L1821.61,1076.36 L1822.1,1077.2 L1822.64,1078.24 L1823.26,1079.48 L1823.91,1080.85 L1824.5,1082.29 L1824.99,1083.72 L1825.3,1085.1 L1825.36,1086.43 L1825.21,1087.76 L1824.95,1089.09 L1824.68,1090.43 L1824.49,1091.77 L1824.5,1093.1 L1824.64,1094.43 L1824.83,1095.77 L1825.11,1097.11 L1825.51,1098.44 L1826.1,1099.77 L1826.9,1101.1 L1827.94,1102.42 L1829.18,1103.74 L1830.6,1105.05 L1832.16,1106.36 L1833.84,1107.68 L1835.6,1109 L1837.42,1110.33 L1839.33,1111.66 L1841.35,1112.99 L1843.51,1114.33 L1845.85,1115.67 L1848.4,1117 L1851.13,1118.35 L1854,1119.73 L1857.06,1121.1 L1860.31,1122.45 L1863.78,1123.76 L1867.5,1125 L1872.18,1126.2 L1877.95,1127.37 L1883.94,1128.51 L1889.29,1129.57 L1893.13,1130.54 L1894.6,1131.4 L1893.28,1132.09 L1889.76,1132.61 L1884.74,1133.05 L1878.9,1133.46 L1872.92,1133.92 L1867.5,1134.5 L1862.26,1135.2 L1856.57,1135.97 L1850.75,1136.79 L1845.11,1137.64 L1839.95,1138.48 L1835.6,1139.3 L1832.05,1140.13 L1829.06,1140.99 L1826.56,1141.85 L1824.48,1142.68 L1822.75,1143.44 L1821.3,1144.1 L1820.27,1144.67 L1819.74,1145.17 L1819.56,1145.6 L1819.57,1145.97 L1819.64,1146.27 L1819.6,1146.5 Z' fill='#e69f00'/>
<ellipse cx='1820.6' cy='1036.5' rx='1.4' ry='3.5' fill='#e69f00' opacity='0.6'/>
<ellipse cx='1820.6' cy='1057.5' rx='1.2' ry='2.5' fill='#e69f00' opacity='0.5'/>
<line x1='1483.6' y1='1026.5' x2='1483.6' y2='1144.6' stroke='#ffffff' stroke-width='1' />
<line x1='1651.5' y1='1012' x2='1651.5' y2='1181.5' stroke='#ffffff' stroke-width='1' />
<line x1='1819.6' y1='1053.5' x2='1819.6' y2='1146.3' stroke='#ffffff' stroke-width='1' />
<circle cx='1467.2' cy='722.2' r='1.65' fill='#000' />
<circle cx='1467.2' cy='770.7' r='1.65' fill='#000' />
<circle cx='1467.2' cy='826.5' r='1.65' fill='#000' />
<circle cx='1467.2' cy='875.8' r='1.65' fill='#000' />
<circle cx='1467.2' cy='910.6' r='1.65' fill='#000' />
<circle cx='1467.2' cy='921.2' r='1.65' fill='#000' />
<circle cx='1467.2' cy='933.7' r='1.65' fill='#000' />
<circle cx='1467.2' cy='940.4' r='1.65' fill='#000' />
<circle cx='1467.2' cy='953.2' r='1.65' fill='#000' />
<circle cx='1467.2' cy='973' r='1.65' fill='#000' />
<circle cx='1467.2' cy='978.2' r='1.65' fill='#000' />
<circle cx='1467.2' cy='981.9' r='1.65' fill='#000' />
<circle cx='1467.2' cy='983.95' r='1.65' fill='#000' />
<circle cx='1467.2' cy='986' r='1.65' fill='#000' />
<circle cx='1467.2' cy='993.4' r='1.65' fill='#000' />
<circle cx='1467.2' cy='995.23' r='1.65' fill='#000' />
<circle cx='1467.2' cy='997.05' r='1.65' fill='#000' />
<circle cx='1467.2' cy='998.88' r='1.65' fill='#000' />
<circle cx='1467.2' cy='1000.7' r='1.65' fill='#000' />
<circle cx='1467.2' cy='1002.52' r='1.65' fill='#000' />
<circle cx='1467.2' cy='1004.35' r='1.65' fill='#000' />
<circle cx='1467.2' cy='1006.17' r='1.65' fill='#000' />
<circle cx='1467.2' cy='1008' r='1.65' fill='#000' />
<circle cx='1467.2' cy='1009.82' r='1.65' fill='#000' />
<circle cx='1467.2' cy='1011.65' r='1.65' fill='#000' />
<circle cx='1467.2' cy='1013.47' r='1.65' fill='#000' />
<circle cx='1467.2' cy='1015.3' r='1.65' fill='#000' />
<line x1='1467.2' y1='1016.3' x2='1467.2' y2='1136.2' stroke='#000' stroke-width='3.3' stroke-linecap='round'/>
<circle cx='1500.6' cy='959.8' r='1.65' fill='#000' />
<circle cx='1500.6' cy='975.3' r='1.65' fill='#000' />
<circle cx='1500.6' cy='984.5' r='1.65' fill='#000' />
<circle cx='1500.6' cy='986.4' r='1.65' fill='#000' />
<circle cx='1500.6' cy='988.3' r='1.65' fill='#000' />
<circle cx='1500.6' cy='990.2' r='1.65' fill='#000' />
<circle cx='1500.6' cy='996.5' r='1.65' fill='#000' />
<circle cx='1500.6' cy='998.6' r='1.65' fill='#000' />
<circle cx='1500.6' cy='1000.7' r='1.65' fill='#000' />
<circle cx='1500.6' cy='1002.8' r='1.65' fill='#000' />
<circle cx='1500.6' cy='1008' r='1.65' fill='#000' />
<circle cx='1500.6' cy='1010.6' r='1.65' fill='#000' />
<circle cx='1500.6' cy='1013.2' r='1.65' fill='#000' />
<line x1='1500.6' y1='1017.4' x2='1500.6' y2='1136.2' stroke='#000' stroke-width='3.3' stroke-linecap='round'/>
<circle cx='1635' cy='1055.9' r='1.65' fill='#000' />
<circle cx='1635' cy='1110' r='1.65' fill='#000' />
<circle cx='1635' cy='1134.2' r='1.65' fill='#000' />
<circle cx='1668.4' cy='1077.8' r='1.65' fill='#000' />
<circle cx='1668.4' cy='1085.6' r='1.65' fill='#000' />
<circle cx='1668.4' cy='1087.7' r='1.65' fill='#000' />
<circle cx='1668.4' cy='1089.8' r='1.65' fill='#000' />
<circle cx='1668.4' cy='1094.5' r='1.65' fill='#000' />
<circle cx='1668.4' cy='1096.35' r='1.65' fill='#000' />
<circle cx='1668.4' cy='1098.2' r='1.65' fill='#000' />
<line x1='1668.4' y1='1102.9' x2='1668.4' y2='1136.2' stroke='#000' stroke-width='3.3' stroke-linecap='round'/>
<circle cx='1803' cy='894.7' r='1.65' fill='#000' />
<circle cx='1803' cy='983.1' r='1.65' fill='#000' />
<circle cx='1803' cy='985.5' r='1.65' fill='#000' />
<circle cx='1803' cy='994.3' r='1.65' fill='#000' />
<circle cx='1803' cy='1003.5' r='1.65' fill='#000' />
<circle cx='1803' cy='1011' r='1.65' fill='#000' />
<circle cx='1803' cy='1028.6' r='1.65' fill='#000' />
<circle cx='1803' cy='1036.5' r='1.65' fill='#000' />
<circle cx='1803' cy='1038.1' r='1.65' fill='#000' />
<circle cx='1803' cy='1048.5' r='1.65' fill='#000' />
<circle cx='1803' cy='1050.62' r='1.65' fill='#000' />
<circle cx='1803' cy='1052.73' r='1.65' fill='#000' />
<circle cx='1803' cy='1054.85' r='1.65' fill='#000' />
<circle cx='1803' cy='1056.97' r='1.65' fill='#000' />
<circle cx='1803' cy='1059.08' r='1.65' fill='#000' />
<circle cx='1803' cy='1061.2' r='1.65' fill='#000' />
<line x1='1803' y1='1061.2' x2='1803' y2='1136.2' stroke='#000' stroke-width='3.3' stroke-linecap='round'/>
<circle cx='1836.4' cy='1034.1' r='1.65' fill='#000' />
<circle cx='1836.4' cy='1036.5' r='1.65' fill='#000' />
<circle cx='1836.4' cy='1056.5' r='1.65' fill='#000' />
<circle cx='1836.4' cy='1058' r='1.65' fill='#000' />
<circle cx='1836.4' cy='1074' r='1.65' fill='#000' />
<circle cx='1836.4' cy='1076' r='1.65' fill='#000' />
<circle cx='1836.4' cy='1078' r='1.65' fill='#000' />
<circle cx='1836.4' cy='1080' r='1.65' fill='#000' />
<circle cx='1836.4' cy='1082' r='1.65' fill='#000' />
<line x1='1836.4' y1='1082' x2='1836.4' y2='1136.2' stroke='#000' stroke-width='3.3' stroke-linecap='round'/>
<line x1='1442' y1='1076' x2='1442' y2='1130.8' stroke='#111' stroke-width='1.5' />
<line x1='1438.1' y1='1076' x2='1445.9' y2='1076' stroke='#111' stroke-width='1.5' />
<line x1='1438.1' y1='1130.8' x2='1445.9' y2='1130.8' stroke='#111' stroke-width='1.5' />
<circle cx='1442' cy='1103.4' r='2.3' fill='#000' />
<line x1='1525.9' y1='1078.8' x2='1525.9' y2='1129.5' stroke='#111' stroke-width='1.5' />
<line x1='1522' y1='1078.8' x2='1529.8' y2='1078.8' stroke='#111' stroke-width='1.5' />
<line x1='1522' y1='1129.5' x2='1529.8' y2='1129.5' stroke='#111' stroke-width='1.5' />
<circle cx='1525.9' cy='1104.2' r='2.3' fill='#000' />
<line x1='1609.9' y1='1060' x2='1609.9' y2='1140' stroke='#111' stroke-width='1.5' />
<line x1='1606' y1='1060' x2='1613.8' y2='1060' stroke='#111' stroke-width='1.5' />
<line x1='1606' y1='1140' x2='1613.8' y2='1140' stroke='#111' stroke-width='1.5' />
<circle cx='1609.9' cy='1100' r='2.3' fill='#000' />
<line x1='1693.8' y1='1107.6' x2='1693.8' y2='1136.8' stroke='#111' stroke-width='1.5' />
<line x1='1689.9' y1='1107.6' x2='1697.7' y2='1107.6' stroke='#111' stroke-width='1.5' />
<line x1='1689.9' y1='1136.8' x2='1697.7' y2='1136.8' stroke='#111' stroke-width='1.5' />
<circle cx='1693.8' cy='1122.2' r='2.3' fill='#000' />
<line x1='1778.1' y1='1088.6' x2='1778.1' y2='1144' stroke='#111' stroke-width='1.5' />
<line x1='1774.2' y1='1088.6' x2='1782' y2='1088.6' stroke='#111' stroke-width='1.5' />
<line x1='1774.2' y1='1144' x2='1782' y2='1144' stroke='#111' stroke-width='1.5' />
<circle cx='1778.1' cy='1117' r='2.3' fill='#000' />
<line x1='1862.2' y1='1104.2' x2='1862.2' y2='1139.8' stroke='#111' stroke-width='1.5' />
<line x1='1858.3' y1='1104.2' x2='1866.1' y2='1104.2' stroke='#111' stroke-width='1.5' />
<line x1='1858.3' y1='1139.8' x2='1866.1' y2='1139.8' stroke='#111' stroke-width='1.5' />
<circle cx='1862.2' cy='1122.5' r='2.3' fill='#000' />
<rect x='1847.3' y='766.6' width='13.2' height='13.9' fill='#56b4e9'/>
<rect x='1847.3' y='782.8' width='13.2' height='13.9' fill='#e69f00'/>
<circle cx='1853.9' cy='773.55' r='2.6' fill='#000' />
<circle cx='1853.9' cy='789.75' r='2.6' fill='#000' />
<text x='1882.2' y='778.7' font-family="'Liberation Sans', Arial, sans-serif" font-size='10.7' font-weight='normal' font-style='normal' text-anchor='middle' fill='#1a1a1a' >Ex_BC</text>
<text x='1882.2' y='794.3' font-family="'Liberation Sans', Arial, sans-serif" font-size='10.7' font-weight='normal' font-style='normal' text-anchor='middle' fill='#1a1a1a' >In_BC</text>
<text x='0' y='0' font-family="'Liberation Serif', 'Times New Roman', serif" font-size='29' font-weight='bold' text-anchor='end' fill='#222' transform='translate(1504.3,1245.3) rotate(-28.5)'>CG-DMR</text>
<text x='0' y='0' font-family="'Liberation Serif', 'Times New Roman', serif" font-size='29' font-weight='bold' text-anchor='end' fill='#222' transform='translate(1664.1,1245.3) rotate(-28.5)'>CHG-DMR</text>
<text x='0' y='0' font-family="'Liberation Serif', 'Times New Roman', serif" font-size='29' font-weight='bold' text-anchor='end' fill='#222' transform='translate(1831.8,1245.3) rotate(-28.5)'>CHH-DMR</text></svg></body></html>
